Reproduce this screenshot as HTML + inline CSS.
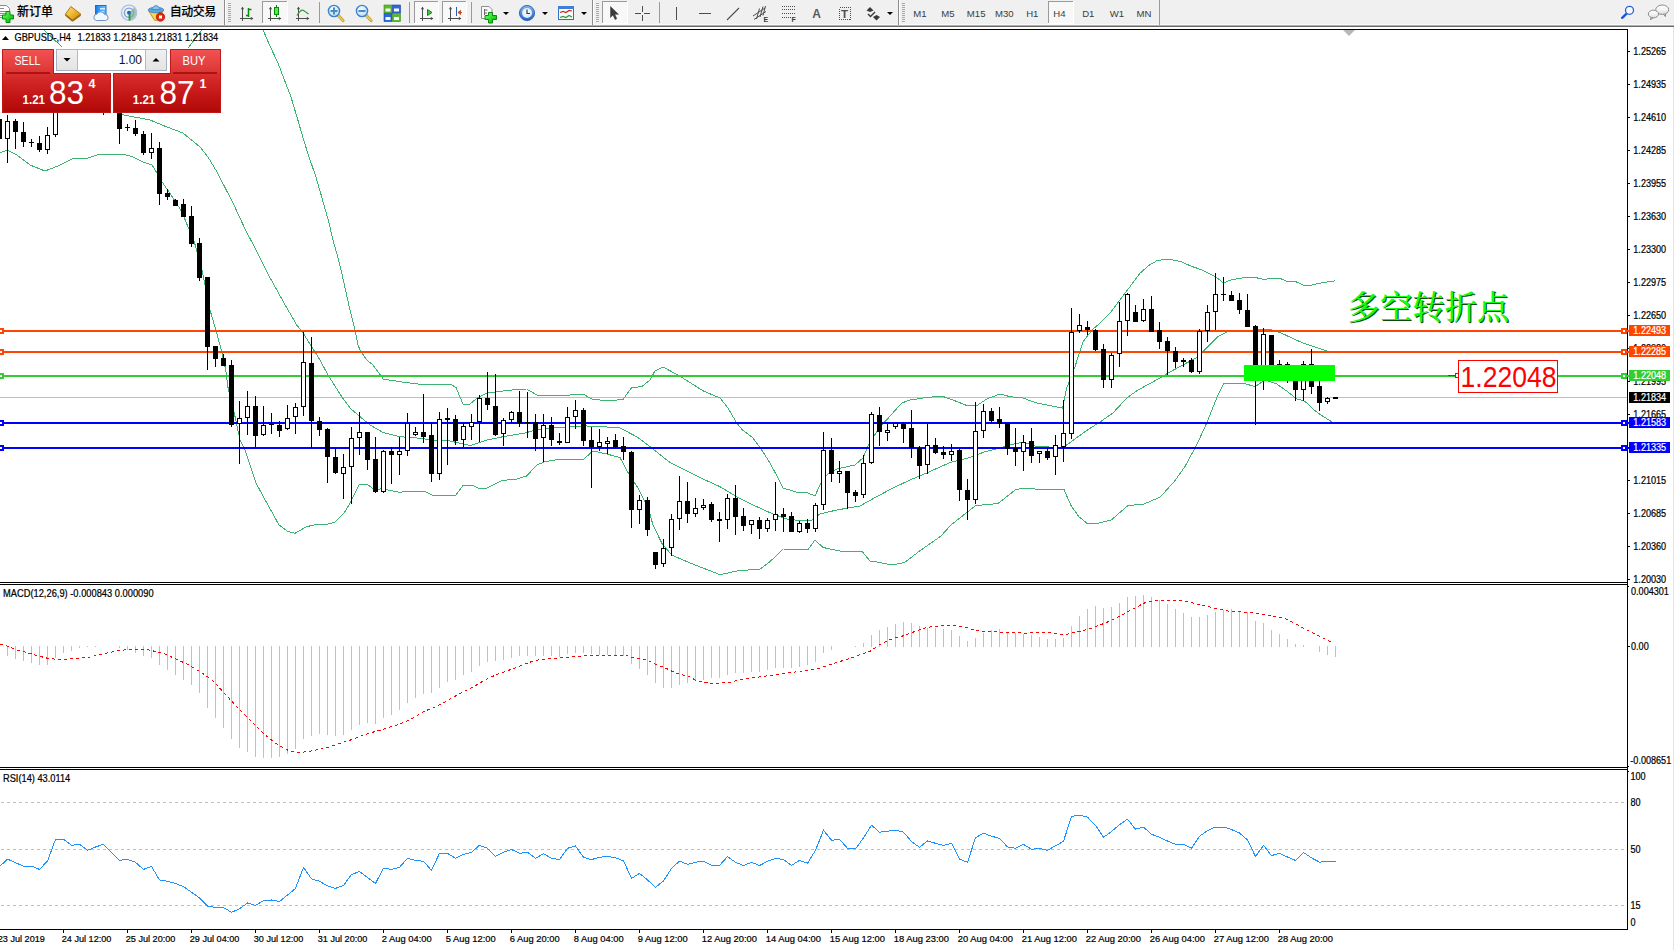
<!DOCTYPE html>
<html><head><meta charset="utf-8"><title>GBPUSD H4</title>
<style>html,body{margin:0;padding:0;background:#fff;overflow:hidden}svg text{white-space:pre}</style>
</head><body>
<svg width="1674" height="950" viewBox="0 0 1674 950" style="display:block">
<defs>
<linearGradient id="gSell" x1="0" y1="0" x2="0" y2="1"><stop offset="0" stop-color="#f45353"/><stop offset="1" stop-color="#d93434"/></linearGradient>
<linearGradient id="gPrice" x1="0" y1="0" x2="0" y2="1"><stop offset="0" stop-color="#d93030"/><stop offset="0.55" stop-color="#c41616"/><stop offset="1" stop-color="#ae0808"/></linearGradient>
<linearGradient id="gBtn" x1="0" y1="0" x2="0" y2="1"><stop offset="0" stop-color="#f0f0f0"/><stop offset="1" stop-color="#e4e4e4"/></linearGradient>
<clipPath id="clipMain"><rect x="0" y="30" width="1627" height="552"/></clipPath><clipPath id="clipMain2"><rect x="0" y="30" width="1629" height="552"/></clipPath>
</defs>
<rect width="1674" height="950" fill="#fff"/>
<rect x="0" y="0" width="1674" height="24" fill="#f0f0f0"/>
<rect x="0" y="24" width="1674" height="1" fill="#fafafa"/>
<rect x="0" y="25" width="1674" height="1" fill="#b0b0b0"/>
<rect x="0" y="26" width="1674" height="1" fill="#6a6a6a"/>
<rect x="1673" y="27" width="1" height="923" fill="#e3e3e3"/>
<defs>
<linearGradient id="gGold" x1="0" y1="0" x2="1" y2="1"><stop offset="0" stop-color="#fbe08a"/><stop offset="0.5" stop-color="#eeb72c"/><stop offset="1" stop-color="#b97a10"/></linearGradient>
<linearGradient id="gBlue" x1="0" y1="0" x2="0" y2="1"><stop offset="0" stop-color="#7db8f0"/><stop offset="1" stop-color="#1f62c4"/></linearGradient>
<linearGradient id="gGreen" x1="0" y1="0" x2="0" y2="1"><stop offset="0" stop-color="#3be03b"/><stop offset="1" stop-color="#0a8a0a"/></linearGradient>
<radialGradient id="gLens" cx="0.4" cy="0.35" r="0.7"><stop offset="0" stop-color="#f4fbff"/><stop offset="1" stop-color="#b4dcf4"/></radialGradient>
<radialGradient id="gClock" cx="0.5" cy="0.4" r="0.6"><stop offset="0" stop-color="#ffffff"/><stop offset="1" stop-color="#d8e6f5"/></radialGradient>
<linearGradient id="gPlus" x1="0" y1="0" x2="1" y2="1"><stop offset="0" stop-color="#7dff7d"/><stop offset="0.5" stop-color="#2fe02f"/><stop offset="1" stop-color="#0aa80a"/></linearGradient>
<linearGradient id="gSrv" x1="0" y1="0" x2="1" y2="0"><stop offset="0" stop-color="#1478e8"/><stop offset="0.35" stop-color="#2f9bff"/><stop offset="1" stop-color="#6cc0ff"/></linearGradient>
<linearGradient id="gBub" x1="0" y1="0" x2="0" y2="1"><stop offset="0" stop-color="#ffffff"/><stop offset="0.5" stop-color="#f4f4f4"/><stop offset="1" stop-color="#dcdce6"/></linearGradient>
</defs>
<g>
<path d="M0 5.500 H6.500 L9.500 8.500 V17.500 H0" fill="#ffffff" stroke="#8a8a8a" stroke-width="1"/>
<g fill="#8c8c8c" shape-rendering="crispEdges"><rect x="0" y="8" width="4" height="1"/><rect x="0" y="11" width="7" height="1"/><rect x="0" y="13" width="6" height="1"/><rect x="0" y="15" width="3" height="1"/></g>
<path d="M6 11.500 H10 V15 H13.500 V19 H10 V22.500 H6 V19 H2.500 V15 H6 Z" fill="url(#gPlus)" stroke="#0a8a0a" stroke-width="1"/>
<text x="17" y="16" font-family="Liberation Sans, Noto Sans CJK SC, sans-serif" font-size="12" font-weight="500" fill="#000" stroke="#000" stroke-width="0.15">新订单</text>
<path d="M65.300 14.300 L70.900 6.500 L81 14.300 L72.500 20.500 Z" fill="url(#gGold)" stroke="#b07a14" stroke-width="1" stroke-linejoin="round"/>
<path d="M65.500 14.800 L72.500 20.800 L80.500 15" fill="none" stroke="#9a6a0c" stroke-width="1.600" stroke-linejoin="round"/>
<rect x="95.500" y="5.500" width="10.500" height="10" fill="url(#gSrv)" stroke="#1a6ad8" stroke-width="1"/>
<rect x="100" y="8" width="5" height="1.500" fill="#d8ecff"/><rect x="100" y="11" width="4" height="1.200" fill="#c0dcf8"/>
<path d="M96.300 20.500 a3.200 3.200 0 0 1 0.500 -6.300 a4.300 4.300 0 0 1 7.800 0.300 a3 3 0 0 1 1 6 Z" fill="#f4f8fd" stroke="#6f94c8" stroke-width="1"/>
<path d="M129 12.700 L129 20.700 A8 8 0 0 0 134.700 7.100 Z" fill="#8fbf8f" opacity="0.850"/>
<circle cx="129" cy="12.700" r="7.600" fill="none" stroke="#a9c3e6" stroke-width="1.400"/>
<circle cx="129" cy="12.700" r="4.600" fill="none" stroke="#7aa2dc" stroke-width="1.400"/>
<circle cx="129" cy="12.700" r="2" fill="#2a5cc8"/>
<path d="M129.500 13 V20.500" fill="none" stroke="#22a022" stroke-width="1.800"/>
<path d="M148.800 11 L163 11 L157.500 20.300 L154.500 20.300 Z" fill="#f6d84a" stroke="#c9941a" stroke-width="1" stroke-linejoin="round"/>
<ellipse cx="156" cy="10" rx="7.800" ry="2.800" fill="#5aa8e0" stroke="#3b80c8" stroke-width="0.800"/>
<path d="M151.500 9.500 Q156 1.500 160.500 9.500 Z" fill="#86c4ee" stroke="#3b80c8" stroke-width="0.800"/>
<circle cx="160.500" cy="17" r="4.200" fill="#e02a14" stroke="#b01808" stroke-width="0.800"/>
<rect x="159" y="15.500" width="3" height="3" fill="#fff"/>
<text x="169.800" y="16" font-family="Liberation Sans, Noto Sans CJK SC, sans-serif" font-size="12" font-weight="500" fill="#000" stroke="#000" stroke-width="0.15" textLength="46.5" lengthAdjust="spacing">自动交易</text>
<rect x="224" y="0" width="1" height="25" fill="#8c8c8c" shape-rendering="crispEdges"/>
<rect x="225" y="0" width="1" height="25" fill="#ffffff" shape-rendering="crispEdges"/>
<g shape-rendering="crispEdges" fill="#a8a8a8">
<rect x="228" y="3" width="3" height="1"/>
<rect x="228" y="5" width="3" height="1"/>
<rect x="228" y="7" width="3" height="1"/>
<rect x="228" y="9" width="3" height="1"/>
<rect x="228" y="11" width="3" height="1"/>
<rect x="228" y="13" width="3" height="1"/>
<rect x="228" y="15" width="3" height="1"/>
<rect x="228" y="17" width="3" height="1"/>
<rect x="228" y="19" width="3" height="1"/>
<rect x="228" y="21" width="3" height="1"/>
</g>
<g shape-rendering="crispEdges" fill="#4d4d4d">
<rect x="242" y="7" width="1" height="14"/>
<rect x="240" y="18" width="13" height="1"/>
</g>
<path d="M240.8 9.2 L242.5 6.7 L244.2 9.2 Z" fill="#4d4d4d"/>
<path d="M250.8 16.8 L253.3 18.5 L250.8 20.2 Z" fill="#4d4d4d"/>
<path d="M248.500 8 V17 M248.500 9.500 H251.500 M246 15.500 H248.500" fill="none" stroke="#0a8a0a" stroke-width="1.500"/>
<g shape-rendering="crispEdges">
<rect x="262" y="1" width="26" height="23" fill="#f8f8f8"/>
<rect x="262" y="1" width="26" height="1" fill="#9a9a9a"/>
<rect x="262" y="1" width="1" height="23" fill="#9a9a9a"/>
<rect x="262" y="23" width="26" height="1" fill="#ffffff"/>
<rect x="287" y="1" width="1" height="23" fill="#ffffff"/>
</g>
<g shape-rendering="crispEdges" fill="#4d4d4d">
<rect x="270" y="7" width="1" height="14"/>
<rect x="268" y="18" width="13" height="1"/>
</g>
<path d="M268.8 9.2 L270.5 6.7 L272.2 9.2 Z" fill="#4d4d4d"/>
<path d="M278.8 16.8 L281.3 18.5 L278.8 20.2 Z" fill="#4d4d4d"/>
<rect x="276" y="5" width="1" height="12" fill="#0a8a0a" shape-rendering="crispEdges"/>
<rect x="274.500" y="7.500" width="4" height="7" fill="#4cf04c" stroke="#0a8a0a" stroke-width="1"/>
<g shape-rendering="crispEdges" fill="#4d4d4d">
<rect x="298" y="7" width="1" height="14"/>
<rect x="296" y="18" width="13" height="1"/>
</g>
<path d="M296.8 9.2 L298.5 6.7 L300.2 9.2 Z" fill="#4d4d4d"/>
<path d="M306.8 16.8 L309.3 18.5 L306.8 20.2 Z" fill="#4d4d4d"/>
<path d="M297 15.500 Q301 9 303.500 10.500 T308.500 14" fill="none" stroke="#2a9a2a" stroke-width="1.300"/>
<rect x="319" y="2" width="1" height="21" fill="#9a9a9a" shape-rendering="crispEdges"/>
<path d="M337.5 14.5 L343 20.5" stroke="#c9a227" stroke-width="3.200" stroke-linecap="round"/>
<path d="M337.5 14.5 L343 20.5" stroke="#e8cf6a" stroke-width="1.200" stroke-linecap="round"/>
<circle cx="334" cy="11" r="5.600" fill="url(#gLens)" stroke="#3d7fd0" stroke-width="1.400"/>
<rect x="330.5" y="10" width="7" height="2" fill="#4a8cc0"/>
<rect x="333" y="7.500" width="2" height="7" fill="#4a8cc0"/>
<path d="M365.5 14.5 L371 20.5" stroke="#c9a227" stroke-width="3.200" stroke-linecap="round"/>
<path d="M365.5 14.5 L371 20.5" stroke="#e8cf6a" stroke-width="1.200" stroke-linecap="round"/>
<circle cx="362" cy="11" r="5.600" fill="url(#gLens)" stroke="#3d7fd0" stroke-width="1.400"/>
<rect x="358.5" y="10" width="7" height="2" fill="#4a8cc0"/>
<rect x="384" y="5" width="8" height="8" fill="#5cb82c" stroke="#3c8e14" stroke-width="0.600"/>
<rect x="385.5" y="8.5" width="5" height="3" fill="#f4f8ff"/>
<rect x="392.5" y="5" width="8" height="8" fill="#2f66d8" stroke="#1a3fa8" stroke-width="0.600"/>
<rect x="394.0" y="8.5" width="5" height="3" fill="#f4f8ff"/>
<rect x="384" y="13.5" width="8" height="8" fill="#2f66d8" stroke="#1a3fa8" stroke-width="0.600"/>
<rect x="385.5" y="17.0" width="5" height="3" fill="#f4f8ff"/>
<rect x="392.5" y="13.5" width="8" height="8" fill="#5cb82c" stroke="#3c8e14" stroke-width="0.600"/>
<rect x="394.0" y="17.0" width="5" height="3" fill="#f4f8ff"/>
<rect x="409" y="2" width="1" height="21" fill="#9a9a9a" shape-rendering="crispEdges"/>
<g shape-rendering="crispEdges">
<rect x="414" y="1" width="25" height="23" fill="#f8f8f8"/>
<rect x="414" y="1" width="25" height="1" fill="#9a9a9a"/>
<rect x="414" y="1" width="1" height="23" fill="#9a9a9a"/>
<rect x="414" y="23" width="25" height="1" fill="#ffffff"/>
<rect x="438" y="1" width="1" height="23" fill="#ffffff"/>
</g>
<g shape-rendering="crispEdges" fill="#4d4d4d">
<rect x="422" y="7" width="1" height="14"/>
<rect x="420" y="18" width="13" height="1"/>
</g>
<path d="M420.8 9.2 L422.5 6.7 L424.2 9.2 Z" fill="#4d4d4d"/>
<path d="M430.8 16.8 L433.3 18.5 L430.8 20.2 Z" fill="#4d4d4d"/>
<path d="M427.500 9.500 L432 12.500 L427.500 15.500 Z" fill="#3cd03c" stroke="#0a8a0a" stroke-width="1"/>
<g shape-rendering="crispEdges">
<rect x="442" y="1" width="25" height="23" fill="#f8f8f8"/>
<rect x="442" y="1" width="25" height="1" fill="#9a9a9a"/>
<rect x="442" y="1" width="1" height="23" fill="#9a9a9a"/>
<rect x="442" y="23" width="25" height="1" fill="#ffffff"/>
<rect x="466" y="1" width="1" height="23" fill="#ffffff"/>
</g>
<g shape-rendering="crispEdges" fill="#4d4d4d">
<rect x="450" y="7" width="1" height="14"/>
<rect x="448" y="18" width="13" height="1"/>
</g>
<path d="M448.8 9.2 L450.5 6.7 L452.2 9.2 Z" fill="#4d4d4d"/>
<path d="M458.8 16.8 L461.3 18.5 L458.8 20.2 Z" fill="#4d4d4d"/>
<rect x="456" y="7" width="1" height="9" fill="#1f62c4" shape-rendering="crispEdges"/>
<path d="M462 12.500 H458 M460.500 10.500 L458 12.500 L460.500 14.500 Z" fill="#d94a10" stroke="#d94a10" stroke-width="1"/>
<rect x="471" y="2" width="1" height="21" fill="#9a9a9a" shape-rendering="crispEdges"/>
<path d="M481.500 6.500 H489 L492 9.500 V18.500 H481.500 Z" fill="#fbfbfb" stroke="#8c8c8c" stroke-width="1"/>
<path d="M484.500 9 V15 M484.500 10 H487.500 M484.500 13 H487" stroke="#6a6a6a" stroke-width="1" fill="none"/>
<path d="M488.500 12.500 H492.500 V15.500 H496.500 V19.500 H492.500 V23 H488.500 V19.500 H485 V15.500 H488.500 Z" fill="url(#gPlus)" stroke="#0a8a0a" stroke-width="1"/>
<path d="M503 12 L509 12 L506 15 Z" fill="#000"/>
<circle cx="527" cy="13" r="7.600" fill="url(#gBlue)" stroke="#1c55b0" stroke-width="0.800"/>
<circle cx="527" cy="13" r="5" fill="url(#gClock)"/>
<path d="M527 9.500 V13.500 H530" fill="none" stroke="#3a3a3a" stroke-width="1.200"/>
<path d="M542 12 L548 12 L545 15 Z" fill="#000"/>
<rect x="558.500" y="6.500" width="15" height="13" fill="#f8fbff" stroke="#2f6fc4" stroke-width="1"/>
<rect x="558" y="6" width="16" height="3" fill="#3f7fd8"/>
<path d="M560 12.500 L563 11.500 L566 12.500 L569 10.500 L572 11" fill="none" stroke="#c03010" stroke-width="1.200"/>
<path d="M560 17.500 L563 16.500 L566 17.500 L569 15.500 L572 17" fill="none" stroke="#2a9a2a" stroke-width="1.200"/>
<path d="M581 12 L587 12 L584 15 Z" fill="#000"/>
<rect x="592" y="0" width="1" height="25" fill="#8c8c8c" shape-rendering="crispEdges"/>
<rect x="593" y="0" width="1" height="25" fill="#ffffff" shape-rendering="crispEdges"/>
<g shape-rendering="crispEdges" fill="#a8a8a8">
<rect x="596" y="3" width="3" height="1"/>
<rect x="596" y="5" width="3" height="1"/>
<rect x="596" y="7" width="3" height="1"/>
<rect x="596" y="9" width="3" height="1"/>
<rect x="596" y="11" width="3" height="1"/>
<rect x="596" y="13" width="3" height="1"/>
<rect x="596" y="15" width="3" height="1"/>
<rect x="596" y="17" width="3" height="1"/>
<rect x="596" y="19" width="3" height="1"/>
<rect x="596" y="21" width="3" height="1"/>
</g>
<g shape-rendering="crispEdges">
<rect x="602" y="1" width="26" height="23" fill="#f8f8f8"/>
<rect x="602" y="1" width="26" height="1" fill="#9a9a9a"/>
<rect x="602" y="1" width="1" height="23" fill="#9a9a9a"/>
<rect x="602" y="23" width="26" height="1" fill="#ffffff"/>
<rect x="627" y="1" width="1" height="23" fill="#ffffff"/>
</g>
<path d="M610.500 6.500 L610.500 17.500 L613 15 L615 19.500 L616.800 18.700 L614.800 14.300 L618.500 14.300 Z" fill="#3a3a3a" stroke="#3a3a3a" stroke-width="0.500" stroke-linejoin="round"/>
<g shape-rendering="crispEdges" fill="#4d4d4d"><rect x="642" y="6" width="1" height="6"/><rect x="642" y="15" width="1" height="6"/><rect x="635" y="13" width="6" height="1"/><rect x="644" y="13" width="6" height="1"/></g>
<rect x="659" y="2" width="1" height="21" fill="#9a9a9a" shape-rendering="crispEdges"/>
<rect x="676" y="7" width="1" height="13" fill="#4d4d4d" shape-rendering="crispEdges"/>
<rect x="699" y="13" width="12" height="1" fill="#4d4d4d" shape-rendering="crispEdges"/>
<path d="M727 20 L739 8" stroke="#4d4d4d" stroke-width="1.100"/>
<path d="M753 16 L765 8 M754 19.500 L766 11.500 M756.500 19 L759.500 8.500 M760 17 L763 6.500 M763 15.500 L765.500 6" stroke="#4d4d4d" stroke-width="1" fill="none"/>
<text x="763.500" y="22" font-family="Liberation Sans, Arial, sans-serif" font-size="7" font-weight="700" fill="#3a3a3a">E</text>
<g fill="none" stroke="#4d4d4d" stroke-width="1" stroke-dasharray="1 1" shape-rendering="crispEdges"><path d="M782 6.500 H795 M782 9.500 H795 M782 13.500 H795 M782 17.500 H791"/></g>
<text x="791.500" y="22" font-family="Liberation Sans, Arial, sans-serif" font-size="7" font-weight="700" fill="#3a3a3a">F</text>
<text x="812.300" y="18" font-family="Liberation Sans, Arial, sans-serif" font-size="12" font-weight="700" fill="#5a5a5a">A</text>
<rect x="839.500" y="7.500" width="11" height="12" fill="none" stroke="#4d4d4d" stroke-width="1" stroke-dasharray="1 1" shape-rendering="crispEdges"/>
<text x="841" y="18" font-family="Liberation Sans, Arial, sans-serif" font-size="11.500" font-weight="700" fill="#4d4d4d">T</text>
<path d="M866.500 10.500 L870 7 L873.500 10.500 L870 12 Z" fill="#3a3a3a"/>
<path d="M873 17 L876.500 15 L880 17 L876.500 20.500 Z" fill="#3a3a3a"/>
<path d="M868 14 L870.500 16.500 L875 12" fill="none" stroke="#3a3a3a" stroke-width="1.400"/>
<path d="M887 12 L893 12 L890 15 Z" fill="#000"/>
<rect x="898" y="0" width="1" height="25" fill="#8c8c8c" shape-rendering="crispEdges"/>
<rect x="899" y="0" width="1" height="25" fill="#ffffff" shape-rendering="crispEdges"/>
<g shape-rendering="crispEdges" fill="#a8a8a8">
<rect x="902" y="3" width="3" height="1"/>
<rect x="902" y="5" width="3" height="1"/>
<rect x="902" y="7" width="3" height="1"/>
<rect x="902" y="9" width="3" height="1"/>
<rect x="902" y="11" width="3" height="1"/>
<rect x="902" y="13" width="3" height="1"/>
<rect x="902" y="15" width="3" height="1"/>
<rect x="902" y="17" width="3" height="1"/>
<rect x="902" y="19" width="3" height="1"/>
<rect x="902" y="21" width="3" height="1"/>
</g>
<g shape-rendering="crispEdges">
<rect x="1048" y="1" width="26" height="23" fill="#f8f8f8"/>
<rect x="1048" y="1" width="26" height="1" fill="#9a9a9a"/>
<rect x="1048" y="1" width="1" height="23" fill="#9a9a9a"/>
<rect x="1048" y="23" width="26" height="1" fill="#ffffff"/>
<rect x="1073" y="1" width="1" height="23" fill="#ffffff"/>
</g>
<g font-family="Liberation Sans, Arial, sans-serif" font-size="9.600" fill="#3c3c3c" text-anchor="middle">
<text x="920" y="17">M1</text>
<text x="948" y="17">M5</text>
<text x="976.2" y="17">M15</text>
<text x="1004.3" y="17">M30</text>
<text x="1032.3" y="17">H1</text>
<text x="1059.5" y="17">H4</text>
<text x="1088.3" y="17">D1</text>
<text x="1117" y="17">W1</text>
<text x="1144" y="17">MN</text>
</g>
<rect x="1159" y="0" width="1" height="25" fill="#9a9a9a" shape-rendering="crispEdges"/>
<path d="M1626.600 13.600 L1622.200 17.800" stroke="#1f56d4" stroke-width="2.400" stroke-linecap="round"/>
<circle cx="1629.500" cy="10.300" r="4" fill="#fbfcff" stroke="#2463dc" stroke-width="1.300"/>
<path d="M1663.500 14.300 L1665.300 16.600 L1665.800 13.900" fill="#e8e8ee" stroke="#8a8a8a" stroke-width="1"/>
<ellipse cx="1662.200" cy="9.700" rx="6.500" ry="4.700" fill="url(#gBub)" stroke="#8c8c8c" stroke-width="1"/>
<path d="M1651.200 17.300 L1650.400 19.700 L1653.300 17.800" fill="#e8e8ee" stroke="#8a8a8a" stroke-width="1"/>
<ellipse cx="1653.400" cy="14" rx="5.100" ry="3.800" fill="url(#gBub)" stroke="#8c8c8c" stroke-width="1"/>
</g>
<g shape-rendering="crispEdges">
<rect x="0" y="29" width="1628" height="1" fill="#000"/>
<rect x="1627" y="29" width="1" height="901" fill="#000"/>
<rect x="0" y="582" width="1628" height="1" fill="#000"/>
<rect x="0" y="584" width="1628" height="1" fill="#000"/>
<rect x="0" y="767" width="1628" height="1" fill="#000"/>
<rect x="0" y="769" width="1628" height="1" fill="#000"/>
<rect x="0" y="929" width="1628" height="1" fill="#000"/>
</g>
<g clip-path="url(#clipMain)">
<rect x="0" y="397" width="1627" height="1" fill="#c0c0c0" shape-rendering="crispEdges"/>
<polyline points="44.0,30.0 62.0,47.0" fill="none" stroke="#3cb371" stroke-width="1" shape-rendering="crispEdges" />
<polyline points="188.0,48.0 202.0,30.0" fill="none" stroke="#3cb371" stroke-width="1" shape-rendering="crispEdges" />
<polyline points="263.0,30.0 270.0,46.0 278.0,63.0 284.0,79.0 290.6,95.8 297.0,117.0 303.3,138.8 309.0,157.0 315.9,176.7 322.0,198.0 328.5,221.0 333.0,240.0 338.6,260.0 341.7,273.0 346.0,292.0 350.0,310.0 355.0,330.0 358.0,345.0 360.0,350.0 366.7,360.0 373.0,365.0 381.7,376.7 383.0,379.0 400.0,381.7 421.7,384.5 433.0,385.0 450.0,384.0 456.0,387.5 463.0,404.0 470.0,404.0 478.0,397.5 486.7,393.0 511.7,390.0 526.7,389.0 536.7,395.0 553.0,396.0 570.0,395.0 583.0,394.0 591.7,399.0 606.7,400.8 623.0,399.5 631.7,387.5 641.7,386.7 650.0,380.0 655.0,370.8 663.0,367.0 678.0,375.0 703.0,390.8 720.0,398.0 728.0,408.0 736.7,423.0 742.5,430.0 753.0,438.0 761.7,450.0 770.0,463.0 778.0,478.0 783.0,488.0 798.0,492.5 808.0,493.0 815.0,496.0 820.0,485.0 826.7,475.0 836.7,469.0 855.0,465.0 863.0,458.0 868.0,446.0 876.7,431.7 885.0,421.7 901.7,403.0 910.0,400.0 926.7,397.5 941.7,396.0 953.0,400.0 968.0,406.0 976.7,405.8 986.7,399.0 1000.0,394.0 1010.0,396.7 1023.0,398.0 1035.0,402.5 1051.7,406.0 1062.5,408.0 1066.7,388.0 1075.0,366.7 1083.0,341.7 1093.0,329.0 1100.0,323.3 1110.0,313.3 1120.0,300.0 1130.0,286.7 1140.0,273.3 1148.3,265.8 1156.7,260.8 1165.0,259.2 1173.3,260.0 1181.7,261.7 1190.0,265.8 1200.0,269.2 1208.3,273.3 1216.7,277.5 1223.3,283.0 1231.7,279.7 1241.7,278.0 1255.0,277.5 1263.3,279.2 1280.0,278.3 1288.3,282.0 1295.0,281.3 1303.3,285.0 1311.7,285.0 1323.3,282.5 1335.0,280.8" fill="none" stroke="#3cb371" stroke-width="1" shape-rendering="crispEdges" />
<polyline points="118.0,113.0 124.0,115.0 150.0,120.0 167.0,127.0 183.0,133.0 200.0,147.0 208.0,157.0 217.0,172.0 233.0,203.0 246.0,231.0 255.0,248.0 266.7,271.7 283.3,301.7 296.7,325.0 303.0,333.0 311.7,346.7 320.0,360.0 328.0,375.0 341.7,396.7 350.0,408.0 360.0,416.7 370.0,425.0 383.0,432.5 400.0,436.7 416.7,438.0 433.0,440.0 450.0,441.0 466.7,444.7 470.0,445.8 486.7,440.0 503.0,436.7 525.0,433.0 536.7,429.7 553.0,428.0 570.0,426.7 586.7,426.0 603.0,426.7 620.0,428.0 636.7,436.7 650.0,446.7 670.0,462.5 686.7,471.0 703.0,479.0 720.0,486.7 736.7,496.7 753.0,505.0 773.0,514.0 786.7,519.0 803.0,521.0 811.7,520.0 820.0,514.0 836.7,510.0 860.0,506.0 876.7,496.7 893.0,488.0 910.0,480.0 926.7,473.0 950.0,462.5 968.0,458.0 985.0,451.7 1001.7,447.5 1010.0,445.0 1023.0,442.0 1035.0,446.0 1043.0,446.0 1060.0,449.0 1068.0,444.0 1085.0,431.7 1101.7,420.8 1113.0,413.0 1126.7,398.0 1138.0,390.0 1160.0,378.0 1168.0,373.0 1183.0,365.0 1196.7,357.5 1206.7,348.0 1218.0,336.7 1226.7,332.0 1268.0,329.0 1280.0,332.5 1301.7,342.5 1326.7,351.0 1335.0,353.0" fill="none" stroke="#3cb371" stroke-width="1" shape-rendering="crispEdges" />
<polyline points="0.0,153.0 7.0,150.0 17.0,155.0 30.0,165.0 45.0,171.0 58.0,166.0 72.0,159.0 88.0,158.0 100.0,154.0 123.0,154.0 133.0,157.0 143.0,162.0 152.0,165.0 157.0,173.0 162.5,182.5 173.0,198.0 182.0,212.0 188.0,227.0 194.0,241.0 201.7,268.0 205.0,285.0 210.0,310.0 216.7,333.0 221.7,351.7 225.8,370.0 228.0,387.5 234.0,411.7 240.0,440.0 245.0,450.0 250.0,465.0 255.8,482.5 263.3,496.7 271.7,511.7 279.0,525.0 288.3,531.7 295.0,533.3 306.7,526.7 315.0,524.7 328.3,524.0 335.0,522.0 345.0,511.7 351.7,500.0 359.0,485.0 366.7,484.0 375.0,490.0 381.7,488.7 400.0,492.5 406.7,491.0 424.0,491.0 431.7,495.0 455.8,495.0 463.3,485.0 472.5,485.0 478.0,488.0 486.7,488.0 501.7,480.5 516.7,479.0 526.7,476.0 536.7,465.0 545.0,461.7 556.7,459.7 583.0,459.7 593.0,451.0 606.7,454.0 620.0,457.5 628.0,472.5 638.0,488.0 648.0,507.5 653.0,525.0 661.7,543.0 671.7,555.0 690.0,563.0 703.0,568.0 720.0,574.7 736.7,571.0 760.0,569.0 770.0,561.7 783.0,549.0 808.0,549.7 815.0,540.0 823.0,547.5 840.0,551.0 861.7,551.0 870.0,561.0 880.0,562.5 892.0,565.0 904.4,562.5 920.6,550.3 941.0,536.0 951.0,525.0 965.3,513.7 975.5,505.6 997.8,503.6 1016.0,489.4 1026.2,488.0 1044.5,490.0 1063.8,489.0 1071.0,505.6 1079.0,516.8 1087.2,523.5 1095.3,524.0 1111.5,519.8 1127.8,505.6 1144.0,504.0 1160.3,497.0 1174.5,481.2 1184.7,467.0 1196.8,444.7 1207.0,422.3 1216.7,398.0 1224.0,383.0 1243.0,383.0 1255.0,386.7 1265.0,380.0 1276.7,384.0 1286.7,391.0 1296.7,399.0 1303.0,400.5 1307.0,403.0 1314.0,410.0 1321.0,415.0 1331.5,421.7" fill="none" stroke="#3cb371" stroke-width="1" shape-rendering="crispEdges" />
<g shape-rendering="crispEdges">
<rect x="0" y="330" width="1629" height="2" fill="#ff4500"/>
<rect x="0" y="351" width="1629" height="2" fill="#ff4500"/>
<rect x="0" y="375" width="1629" height="2" fill="#32cd32"/>
<rect x="0" y="422" width="1629" height="2" fill="#0000ff"/>
<rect x="0" y="447" width="1629" height="2" fill="#0000ff"/>
</g>
<g shape-rendering="crispEdges">
<rect x="-1" y="115" width="1" height="30" fill="#000"/>
<rect x="-3" y="119" width="5" height="20" fill="#000"/>
<rect x="7" y="115" width="1" height="48" fill="#000"/>
<rect x="5" y="121" width="5" height="18" fill="#000"/>
<rect x="6" y="122" width="3" height="16" fill="#fff"/>
<rect x="15" y="119" width="1" height="30" fill="#000"/>
<rect x="13" y="121" width="5" height="11" fill="#000"/>
<rect x="23" y="122" width="1" height="25" fill="#000"/>
<rect x="21" y="132" width="5" height="10" fill="#000"/>
<rect x="31" y="139" width="1" height="8" fill="#000"/>
<rect x="29" y="142" width="5" height="1" fill="#000"/>
<rect x="39" y="136" width="1" height="16" fill="#000"/>
<rect x="37" y="143" width="5" height="7" fill="#000"/>
<rect x="47" y="127" width="1" height="27" fill="#000"/>
<rect x="45" y="135" width="5" height="15" fill="#000"/>
<rect x="46" y="136" width="3" height="13" fill="#fff"/>
<rect x="55" y="100" width="1" height="37" fill="#000"/>
<rect x="53" y="100" width="5" height="35" fill="#000"/>
<rect x="54" y="101" width="3" height="33" fill="#fff"/>
<rect x="103" y="100" width="1" height="15" fill="#000"/>
<rect x="101" y="99" width="5" height="1" fill="#000"/>
<rect x="119" y="113" width="1" height="31" fill="#000"/>
<rect x="117" y="113" width="5" height="16" fill="#000"/>
<rect x="127" y="124" width="1" height="7" fill="#000"/>
<rect x="125" y="127" width="5" height="1" fill="#000"/>
<rect x="135" y="120" width="1" height="16" fill="#000"/>
<rect x="133" y="128" width="5" height="6" fill="#000"/>
<rect x="143" y="131" width="1" height="24" fill="#000"/>
<rect x="141" y="134" width="5" height="19" fill="#000"/>
<rect x="151" y="133" width="1" height="26" fill="#000"/>
<rect x="149" y="148" width="5" height="5" fill="#000"/>
<rect x="150" y="149" width="3" height="3" fill="#fff"/>
<rect x="159" y="142" width="1" height="63" fill="#000"/>
<rect x="157" y="148" width="5" height="46" fill="#000"/>
<rect x="167" y="189" width="1" height="11" fill="#000"/>
<rect x="165" y="193" width="5" height="4" fill="#000"/>
<rect x="175" y="199" width="1" height="7" fill="#000"/>
<rect x="173" y="200" width="5" height="6" fill="#000"/>
<rect x="183" y="199" width="1" height="18" fill="#000"/>
<rect x="181" y="204" width="5" height="13" fill="#000"/>
<rect x="191" y="206" width="1" height="41" fill="#000"/>
<rect x="189" y="216" width="5" height="28" fill="#000"/>
<rect x="199" y="238" width="1" height="43" fill="#000"/>
<rect x="197" y="243" width="5" height="35" fill="#000"/>
<rect x="207" y="277" width="1" height="93" fill="#000"/>
<rect x="205" y="277" width="5" height="70" fill="#000"/>
<rect x="215" y="346" width="1" height="21" fill="#000"/>
<rect x="213" y="346" width="5" height="13" fill="#000"/>
<rect x="223" y="354" width="1" height="12" fill="#000"/>
<rect x="221" y="358" width="5" height="8" fill="#000"/>
<rect x="231" y="360" width="1" height="67" fill="#000"/>
<rect x="229" y="365" width="5" height="60" fill="#000"/>
<rect x="239" y="401" width="1" height="63" fill="#000"/>
<rect x="237" y="418" width="5" height="6" fill="#000"/>
<rect x="238" y="419" width="3" height="4" fill="#fff"/>
<rect x="247" y="391" width="1" height="44" fill="#000"/>
<rect x="245" y="406" width="5" height="12" fill="#000"/>
<rect x="246" y="407" width="3" height="10" fill="#fff"/>
<rect x="255" y="396" width="1" height="51" fill="#000"/>
<rect x="253" y="406" width="5" height="30" fill="#000"/>
<rect x="263" y="406" width="1" height="30" fill="#000"/>
<rect x="261" y="425" width="5" height="10" fill="#000"/>
<rect x="262" y="426" width="3" height="8" fill="#fff"/>
<rect x="271" y="413" width="1" height="21" fill="#000"/>
<rect x="269" y="424" width="5" height="1" fill="#000"/>
<rect x="279" y="421" width="1" height="16" fill="#000"/>
<rect x="277" y="425" width="5" height="6" fill="#000"/>
<rect x="287" y="405" width="1" height="25" fill="#000"/>
<rect x="285" y="418" width="5" height="11" fill="#000"/>
<rect x="286" y="419" width="3" height="9" fill="#fff"/>
<rect x="295" y="403" width="1" height="31" fill="#000"/>
<rect x="293" y="407" width="5" height="10" fill="#000"/>
<rect x="294" y="408" width="3" height="8" fill="#fff"/>
<rect x="303" y="332" width="1" height="84" fill="#000"/>
<rect x="301" y="362" width="5" height="45" fill="#000"/>
<rect x="302" y="363" width="3" height="43" fill="#fff"/>
<rect x="311" y="337" width="1" height="111" fill="#000"/>
<rect x="309" y="363" width="5" height="58" fill="#000"/>
<rect x="319" y="417" width="1" height="19" fill="#000"/>
<rect x="317" y="421" width="5" height="9" fill="#000"/>
<rect x="327" y="428" width="1" height="55" fill="#000"/>
<rect x="325" y="429" width="5" height="28" fill="#000"/>
<rect x="335" y="449" width="1" height="25" fill="#000"/>
<rect x="333" y="457" width="5" height="16" fill="#000"/>
<rect x="343" y="454" width="1" height="45" fill="#000"/>
<rect x="341" y="467" width="5" height="7" fill="#000"/>
<rect x="342" y="468" width="3" height="5" fill="#fff"/>
<rect x="351" y="427" width="1" height="77" fill="#000"/>
<rect x="349" y="438" width="5" height="29" fill="#000"/>
<rect x="350" y="439" width="3" height="27" fill="#fff"/>
<rect x="359" y="412" width="1" height="43" fill="#000"/>
<rect x="357" y="432" width="5" height="6" fill="#000"/>
<rect x="358" y="433" width="3" height="4" fill="#fff"/>
<rect x="367" y="432" width="1" height="38" fill="#000"/>
<rect x="365" y="432" width="5" height="28" fill="#000"/>
<rect x="375" y="437" width="1" height="56" fill="#000"/>
<rect x="373" y="459" width="5" height="33" fill="#000"/>
<rect x="383" y="450" width="1" height="43" fill="#000"/>
<rect x="381" y="451" width="5" height="41" fill="#000"/>
<rect x="382" y="452" width="3" height="39" fill="#fff"/>
<rect x="391" y="447" width="1" height="37" fill="#000"/>
<rect x="389" y="451" width="5" height="4" fill="#000"/>
<rect x="399" y="437" width="1" height="38" fill="#000"/>
<rect x="397" y="451" width="5" height="4" fill="#000"/>
<rect x="398" y="452" width="3" height="2" fill="#fff"/>
<rect x="407" y="413" width="1" height="43" fill="#000"/>
<rect x="405" y="423" width="5" height="28" fill="#000"/>
<rect x="406" y="424" width="3" height="26" fill="#fff"/>
<rect x="415" y="427" width="1" height="9" fill="#000"/>
<rect x="413" y="432" width="5" height="3" fill="#000"/>
<rect x="414" y="433" width="3" height="1" fill="#fff"/>
<rect x="423" y="394" width="1" height="49" fill="#000"/>
<rect x="421" y="432" width="5" height="5" fill="#000"/>
<rect x="431" y="423" width="1" height="59" fill="#000"/>
<rect x="429" y="435" width="5" height="39" fill="#000"/>
<rect x="439" y="412" width="1" height="68" fill="#000"/>
<rect x="437" y="419" width="5" height="55" fill="#000"/>
<rect x="438" y="420" width="3" height="53" fill="#fff"/>
<rect x="447" y="408" width="1" height="57" fill="#000"/>
<rect x="445" y="418" width="5" height="2" fill="#000"/>
<rect x="455" y="415" width="1" height="30" fill="#000"/>
<rect x="453" y="419" width="5" height="22" fill="#000"/>
<rect x="463" y="423" width="1" height="24" fill="#000"/>
<rect x="461" y="426" width="5" height="14" fill="#000"/>
<rect x="462" y="427" width="3" height="12" fill="#fff"/>
<rect x="471" y="414" width="1" height="26" fill="#000"/>
<rect x="469" y="422" width="5" height="5" fill="#000"/>
<rect x="470" y="423" width="3" height="3" fill="#fff"/>
<rect x="479" y="395" width="1" height="47" fill="#000"/>
<rect x="477" y="398" width="5" height="24" fill="#000"/>
<rect x="478" y="399" width="3" height="22" fill="#fff"/>
<rect x="487" y="372" width="1" height="38" fill="#000"/>
<rect x="485" y="398" width="5" height="7" fill="#000"/>
<rect x="495" y="374" width="1" height="62" fill="#000"/>
<rect x="493" y="406" width="5" height="29" fill="#000"/>
<rect x="503" y="418" width="1" height="28" fill="#000"/>
<rect x="501" y="420" width="5" height="14" fill="#000"/>
<rect x="502" y="421" width="3" height="12" fill="#fff"/>
<rect x="511" y="411" width="1" height="12" fill="#000"/>
<rect x="509" y="412" width="5" height="8" fill="#000"/>
<rect x="510" y="413" width="3" height="6" fill="#fff"/>
<rect x="519" y="391" width="1" height="36" fill="#000"/>
<rect x="517" y="412" width="5" height="11" fill="#000"/>
<rect x="527" y="392" width="1" height="46" fill="#000"/>
<rect x="525" y="422" width="5" height="1" fill="#000"/>
<rect x="535" y="414" width="1" height="37" fill="#000"/>
<rect x="533" y="422" width="5" height="17" fill="#000"/>
<rect x="543" y="414" width="1" height="48" fill="#000"/>
<rect x="541" y="425" width="5" height="13" fill="#000"/>
<rect x="542" y="426" width="3" height="11" fill="#fff"/>
<rect x="551" y="417" width="1" height="29" fill="#000"/>
<rect x="549" y="425" width="5" height="15" fill="#000"/>
<rect x="559" y="433" width="1" height="12" fill="#000"/>
<rect x="557" y="441" width="5" height="2" fill="#000"/>
<rect x="567" y="407" width="1" height="36" fill="#000"/>
<rect x="565" y="417" width="5" height="26" fill="#000"/>
<rect x="566" y="418" width="3" height="24" fill="#fff"/>
<rect x="575" y="400" width="1" height="29" fill="#000"/>
<rect x="573" y="410" width="5" height="7" fill="#000"/>
<rect x="574" y="411" width="3" height="5" fill="#fff"/>
<rect x="583" y="408" width="1" height="38" fill="#000"/>
<rect x="581" y="410" width="5" height="31" fill="#000"/>
<rect x="591" y="427" width="1" height="61" fill="#000"/>
<rect x="589" y="440" width="5" height="7" fill="#000"/>
<rect x="599" y="429" width="1" height="22" fill="#000"/>
<rect x="597" y="442" width="5" height="5" fill="#000"/>
<rect x="598" y="443" width="3" height="3" fill="#fff"/>
<rect x="607" y="437" width="1" height="17" fill="#000"/>
<rect x="605" y="441" width="5" height="3" fill="#000"/>
<rect x="606" y="442" width="3" height="1" fill="#fff"/>
<rect x="615" y="434" width="1" height="14" fill="#000"/>
<rect x="613" y="440" width="5" height="7" fill="#000"/>
<rect x="623" y="437" width="1" height="23" fill="#000"/>
<rect x="621" y="446" width="5" height="6" fill="#000"/>
<rect x="631" y="451" width="1" height="77" fill="#000"/>
<rect x="629" y="452" width="5" height="58" fill="#000"/>
<rect x="639" y="495" width="1" height="29" fill="#000"/>
<rect x="637" y="500" width="5" height="10" fill="#000"/>
<rect x="638" y="501" width="3" height="8" fill="#fff"/>
<rect x="647" y="497" width="1" height="39" fill="#000"/>
<rect x="645" y="500" width="5" height="30" fill="#000"/>
<rect x="655" y="552" width="1" height="17" fill="#000"/>
<rect x="653" y="552" width="5" height="13" fill="#000"/>
<rect x="663" y="539" width="1" height="28" fill="#000"/>
<rect x="661" y="548" width="5" height="16" fill="#000"/>
<rect x="662" y="549" width="3" height="14" fill="#fff"/>
<rect x="671" y="514" width="1" height="42" fill="#000"/>
<rect x="669" y="519" width="5" height="29" fill="#000"/>
<rect x="670" y="520" width="3" height="27" fill="#fff"/>
<rect x="679" y="476" width="1" height="54" fill="#000"/>
<rect x="677" y="501" width="5" height="18" fill="#000"/>
<rect x="678" y="502" width="3" height="16" fill="#fff"/>
<rect x="687" y="482" width="1" height="41" fill="#000"/>
<rect x="685" y="501" width="5" height="13" fill="#000"/>
<rect x="695" y="498" width="1" height="19" fill="#000"/>
<rect x="693" y="508" width="5" height="6" fill="#000"/>
<rect x="694" y="509" width="3" height="4" fill="#fff"/>
<rect x="703" y="499" width="1" height="11" fill="#000"/>
<rect x="701" y="505" width="5" height="3" fill="#000"/>
<rect x="702" y="506" width="3" height="1" fill="#fff"/>
<rect x="711" y="502" width="1" height="20" fill="#000"/>
<rect x="709" y="504" width="5" height="16" fill="#000"/>
<rect x="719" y="512" width="1" height="30" fill="#000"/>
<rect x="717" y="519" width="5" height="2" fill="#000"/>
<rect x="727" y="494" width="1" height="35" fill="#000"/>
<rect x="725" y="498" width="5" height="22" fill="#000"/>
<rect x="726" y="499" width="3" height="20" fill="#fff"/>
<rect x="735" y="485" width="1" height="50" fill="#000"/>
<rect x="733" y="498" width="5" height="19" fill="#000"/>
<rect x="743" y="508" width="1" height="23" fill="#000"/>
<rect x="741" y="516" width="5" height="10" fill="#000"/>
<rect x="751" y="520" width="1" height="14" fill="#000"/>
<rect x="749" y="520" width="5" height="5" fill="#000"/>
<rect x="750" y="521" width="3" height="3" fill="#fff"/>
<rect x="759" y="517" width="1" height="22" fill="#000"/>
<rect x="757" y="520" width="5" height="9" fill="#000"/>
<rect x="767" y="518" width="1" height="14" fill="#000"/>
<rect x="765" y="520" width="5" height="9" fill="#000"/>
<rect x="766" y="521" width="3" height="7" fill="#fff"/>
<rect x="775" y="482" width="1" height="49" fill="#000"/>
<rect x="773" y="514" width="5" height="6" fill="#000"/>
<rect x="774" y="515" width="3" height="4" fill="#fff"/>
<rect x="783" y="508" width="1" height="24" fill="#000"/>
<rect x="781" y="514" width="5" height="3" fill="#000"/>
<rect x="791" y="512" width="1" height="20" fill="#000"/>
<rect x="789" y="516" width="5" height="16" fill="#000"/>
<rect x="799" y="521" width="1" height="12" fill="#000"/>
<rect x="797" y="523" width="5" height="9" fill="#000"/>
<rect x="798" y="524" width="3" height="7" fill="#fff"/>
<rect x="807" y="519" width="1" height="14" fill="#000"/>
<rect x="805" y="523" width="5" height="6" fill="#000"/>
<rect x="815" y="503" width="1" height="29" fill="#000"/>
<rect x="813" y="505" width="5" height="24" fill="#000"/>
<rect x="814" y="506" width="3" height="22" fill="#fff"/>
<rect x="823" y="432" width="1" height="78" fill="#000"/>
<rect x="821" y="450" width="5" height="55" fill="#000"/>
<rect x="822" y="451" width="3" height="53" fill="#fff"/>
<rect x="831" y="438" width="1" height="44" fill="#000"/>
<rect x="829" y="450" width="5" height="24" fill="#000"/>
<rect x="839" y="461" width="1" height="22" fill="#000"/>
<rect x="837" y="471" width="5" height="3" fill="#000"/>
<rect x="838" y="472" width="3" height="1" fill="#fff"/>
<rect x="847" y="471" width="1" height="38" fill="#000"/>
<rect x="845" y="471" width="5" height="22" fill="#000"/>
<rect x="855" y="490" width="1" height="12" fill="#000"/>
<rect x="853" y="492" width="5" height="4" fill="#000"/>
<rect x="863" y="455" width="1" height="43" fill="#000"/>
<rect x="861" y="463" width="5" height="32" fill="#000"/>
<rect x="862" y="464" width="3" height="30" fill="#fff"/>
<rect x="871" y="412" width="1" height="52" fill="#000"/>
<rect x="869" y="414" width="5" height="49" fill="#000"/>
<rect x="870" y="415" width="3" height="47" fill="#fff"/>
<rect x="879" y="407" width="1" height="39" fill="#000"/>
<rect x="877" y="415" width="5" height="17" fill="#000"/>
<rect x="887" y="424" width="1" height="17" fill="#000"/>
<rect x="885" y="430" width="5" height="3" fill="#000"/>
<rect x="886" y="431" width="3" height="1" fill="#fff"/>
<rect x="895" y="422" width="1" height="7" fill="#000"/>
<rect x="893" y="423" width="5" height="4" fill="#000"/>
<rect x="894" y="424" width="3" height="2" fill="#fff"/>
<rect x="903" y="422" width="1" height="21" fill="#000"/>
<rect x="901" y="424" width="5" height="5" fill="#000"/>
<rect x="911" y="410" width="1" height="48" fill="#000"/>
<rect x="909" y="428" width="5" height="20" fill="#000"/>
<rect x="919" y="446" width="1" height="33" fill="#000"/>
<rect x="917" y="448" width="5" height="18" fill="#000"/>
<rect x="927" y="424" width="1" height="50" fill="#000"/>
<rect x="925" y="445" width="5" height="20" fill="#000"/>
<rect x="926" y="446" width="3" height="18" fill="#fff"/>
<rect x="935" y="438" width="1" height="16" fill="#000"/>
<rect x="933" y="445" width="5" height="8" fill="#000"/>
<rect x="943" y="446" width="1" height="13" fill="#000"/>
<rect x="941" y="452" width="5" height="3" fill="#000"/>
<rect x="951" y="444" width="1" height="17" fill="#000"/>
<rect x="949" y="451" width="5" height="4" fill="#000"/>
<rect x="950" y="452" width="3" height="2" fill="#fff"/>
<rect x="959" y="449" width="1" height="52" fill="#000"/>
<rect x="957" y="450" width="5" height="40" fill="#000"/>
<rect x="967" y="479" width="1" height="41" fill="#000"/>
<rect x="965" y="490" width="5" height="10" fill="#000"/>
<rect x="975" y="402" width="1" height="102" fill="#000"/>
<rect x="973" y="431" width="5" height="69" fill="#000"/>
<rect x="974" y="432" width="3" height="67" fill="#fff"/>
<rect x="983" y="404" width="1" height="34" fill="#000"/>
<rect x="981" y="411" width="5" height="20" fill="#000"/>
<rect x="982" y="412" width="3" height="18" fill="#fff"/>
<rect x="991" y="408" width="1" height="14" fill="#000"/>
<rect x="989" y="411" width="5" height="10" fill="#000"/>
<rect x="999" y="407" width="1" height="21" fill="#000"/>
<rect x="997" y="419" width="5" height="5" fill="#000"/>
<rect x="1007" y="423" width="1" height="32" fill="#000"/>
<rect x="1005" y="423" width="5" height="26" fill="#000"/>
<rect x="1015" y="428" width="1" height="38" fill="#000"/>
<rect x="1013" y="448" width="5" height="4" fill="#000"/>
<rect x="1023" y="435" width="1" height="36" fill="#000"/>
<rect x="1021" y="442" width="5" height="10" fill="#000"/>
<rect x="1022" y="443" width="3" height="8" fill="#fff"/>
<rect x="1031" y="428" width="1" height="35" fill="#000"/>
<rect x="1029" y="441" width="5" height="15" fill="#000"/>
<rect x="1039" y="451" width="1" height="12" fill="#000"/>
<rect x="1037" y="451" width="5" height="3" fill="#000"/>
<rect x="1038" y="452" width="3" height="1" fill="#fff"/>
<rect x="1047" y="448" width="1" height="12" fill="#000"/>
<rect x="1045" y="451" width="5" height="7" fill="#000"/>
<rect x="1055" y="435" width="1" height="40" fill="#000"/>
<rect x="1053" y="445" width="5" height="12" fill="#000"/>
<rect x="1054" y="446" width="3" height="10" fill="#fff"/>
<rect x="1063" y="400" width="1" height="62" fill="#000"/>
<rect x="1061" y="433" width="5" height="14" fill="#000"/>
<rect x="1062" y="434" width="3" height="12" fill="#fff"/>
<rect x="1071" y="308" width="1" height="131" fill="#000"/>
<rect x="1069" y="332" width="5" height="102" fill="#000"/>
<rect x="1070" y="333" width="3" height="100" fill="#fff"/>
<rect x="1079" y="314" width="1" height="19" fill="#000"/>
<rect x="1077" y="325" width="5" height="6" fill="#000"/>
<rect x="1078" y="326" width="3" height="4" fill="#fff"/>
<rect x="1087" y="321" width="1" height="14" fill="#000"/>
<rect x="1085" y="327" width="5" height="3" fill="#000"/>
<rect x="1095" y="329" width="1" height="22" fill="#000"/>
<rect x="1093" y="330" width="5" height="20" fill="#000"/>
<rect x="1103" y="344" width="1" height="44" fill="#000"/>
<rect x="1101" y="349" width="5" height="31" fill="#000"/>
<rect x="1111" y="353" width="1" height="35" fill="#000"/>
<rect x="1109" y="355" width="5" height="25" fill="#000"/>
<rect x="1110" y="356" width="3" height="23" fill="#fff"/>
<rect x="1119" y="302" width="1" height="65" fill="#000"/>
<rect x="1117" y="321" width="5" height="33" fill="#000"/>
<rect x="1118" y="322" width="3" height="31" fill="#fff"/>
<rect x="1127" y="293" width="1" height="43" fill="#000"/>
<rect x="1125" y="294" width="5" height="27" fill="#000"/>
<rect x="1126" y="295" width="3" height="25" fill="#fff"/>
<rect x="1135" y="305" width="1" height="17" fill="#000"/>
<rect x="1133" y="312" width="5" height="10" fill="#000"/>
<rect x="1143" y="299" width="1" height="23" fill="#000"/>
<rect x="1141" y="309" width="5" height="12" fill="#000"/>
<rect x="1142" y="310" width="3" height="10" fill="#fff"/>
<rect x="1151" y="296" width="1" height="36" fill="#000"/>
<rect x="1149" y="309" width="5" height="23" fill="#000"/>
<rect x="1159" y="322" width="1" height="27" fill="#000"/>
<rect x="1157" y="330" width="5" height="12" fill="#000"/>
<rect x="1167" y="337" width="1" height="38" fill="#000"/>
<rect x="1165" y="341" width="5" height="10" fill="#000"/>
<rect x="1175" y="347" width="1" height="21" fill="#000"/>
<rect x="1173" y="351" width="5" height="11" fill="#000"/>
<rect x="1183" y="358" width="1" height="9" fill="#000"/>
<rect x="1181" y="360" width="5" height="2" fill="#000"/>
<rect x="1191" y="358" width="1" height="15" fill="#000"/>
<rect x="1189" y="360" width="5" height="12" fill="#000"/>
<rect x="1199" y="329" width="1" height="45" fill="#000"/>
<rect x="1197" y="331" width="5" height="41" fill="#000"/>
<rect x="1198" y="332" width="3" height="39" fill="#fff"/>
<rect x="1207" y="305" width="1" height="37" fill="#000"/>
<rect x="1205" y="312" width="5" height="19" fill="#000"/>
<rect x="1206" y="313" width="3" height="17" fill="#fff"/>
<rect x="1215" y="273" width="1" height="57" fill="#000"/>
<rect x="1213" y="294" width="5" height="18" fill="#000"/>
<rect x="1214" y="295" width="3" height="16" fill="#fff"/>
<rect x="1223" y="277" width="1" height="24" fill="#000"/>
<rect x="1221" y="294" width="5" height="1" fill="#000"/>
<rect x="1231" y="291" width="1" height="10" fill="#000"/>
<rect x="1229" y="295" width="5" height="6" fill="#000"/>
<rect x="1239" y="293" width="1" height="21" fill="#000"/>
<rect x="1237" y="300" width="5" height="10" fill="#000"/>
<rect x="1247" y="294" width="1" height="33" fill="#000"/>
<rect x="1245" y="310" width="5" height="17" fill="#000"/>
<rect x="1255" y="325" width="1" height="100" fill="#000"/>
<rect x="1253" y="326" width="5" height="46" fill="#000"/>
<rect x="1263" y="328" width="1" height="62" fill="#000"/>
<rect x="1261" y="334" width="5" height="38" fill="#000"/>
<rect x="1262" y="335" width="3" height="36" fill="#fff"/>
<rect x="1271" y="335" width="1" height="37" fill="#000"/>
<rect x="1269" y="335" width="5" height="37" fill="#000"/>
<rect x="1279" y="360" width="1" height="12" fill="#000"/>
<rect x="1277" y="364" width="5" height="6" fill="#000"/>
<rect x="1287" y="362" width="1" height="21" fill="#000"/>
<rect x="1285" y="364" width="5" height="8" fill="#000"/>
<rect x="1295" y="368" width="1" height="33" fill="#000"/>
<rect x="1293" y="372" width="5" height="18" fill="#000"/>
<rect x="1303" y="361" width="1" height="40" fill="#000"/>
<rect x="1301" y="364" width="5" height="26" fill="#000"/>
<rect x="1302" y="365" width="3" height="24" fill="#fff"/>
<rect x="1311" y="349" width="1" height="45" fill="#000"/>
<rect x="1309" y="364" width="5" height="23" fill="#000"/>
<rect x="1319" y="381" width="1" height="30" fill="#000"/>
<rect x="1317" y="386" width="5" height="17" fill="#000"/>
<rect x="1327" y="397" width="1" height="7" fill="#000"/>
<rect x="1325" y="398" width="5" height="4" fill="#000"/>
<rect x="1326" y="399" width="3" height="2" fill="#fff"/>
<rect x="1335" y="397" width="1" height="2" fill="#000"/>
<rect x="1333" y="397" width="5" height="2" fill="#000"/>
</g>
<rect x="1244" y="365" width="91" height="16" fill="#00ff00" shape-rendering="crispEdges"/>
<g shape-rendering="crispEdges">
<rect x="-2" y="328" width="6" height="6" fill="#ff4500"/><rect x="0" y="330" width="2" height="2" fill="#fff"/>
<rect x="1621" y="328" width="6" height="6" fill="#ff4500"/><rect x="1623" y="330" width="2" height="2" fill="#fff"/>
<rect x="-2" y="349" width="6" height="6" fill="#ff4500"/><rect x="0" y="351" width="2" height="2" fill="#fff"/>
<rect x="1621" y="349" width="6" height="6" fill="#ff4500"/><rect x="1623" y="351" width="2" height="2" fill="#fff"/>
<rect x="-2" y="373" width="6" height="6" fill="#32cd32"/><rect x="0" y="375" width="2" height="2" fill="#fff"/>
<rect x="1621" y="373" width="6" height="6" fill="#32cd32"/><rect x="1623" y="375" width="2" height="2" fill="#fff"/>
<rect x="-2" y="420" width="6" height="6" fill="#0000ff"/><rect x="0" y="422" width="2" height="2" fill="#fff"/>
<rect x="1621" y="420" width="6" height="6" fill="#0000ff"/><rect x="1623" y="422" width="2" height="2" fill="#fff"/>
<rect x="-2" y="445" width="6" height="6" fill="#0000ff"/><rect x="0" y="447" width="2" height="2" fill="#fff"/>
<rect x="1621" y="445" width="6" height="6" fill="#0000ff"/><rect x="1623" y="447" width="2" height="2" fill="#fff"/>
</g>
<path d="M1343 30 L1355 30 L1349 36 Z" fill="#b8b8b8"/>
</g>
<g shape-rendering="crispEdges">
<rect x="1627" y="330" width="2" height="2" fill="#ff4500"/>
<rect x="1627" y="351" width="2" height="2" fill="#ff4500"/>
<rect x="1627" y="375" width="2" height="2" fill="#32cd32"/>
<rect x="1627" y="422" width="2" height="2" fill="#0000ff"/>
<rect x="1627" y="447" width="2" height="2" fill="#0000ff"/>
</g>
<g shape-rendering="crispEdges">
<rect x="1448" y="375" width="8" height="1" fill="#ff0000"/>
<rect x="1455.5" y="373.5" width="3" height="4" fill="#fff" stroke="#ff0000"/>
<rect x="1458.5" y="360.5" width="99" height="32" fill="#fff" stroke="#ff0000" stroke-width="1"/>
</g>
<text id="bigp" x="1460.5" y="387.3" font-family="Liberation Sans, Arial, sans-serif" font-size="29.4" fill="#ff0000" textLength="96" lengthAdjust="spacingAndGlyphs">1.22048</text>
<text x="1348.5" y="320" font-family="Liberation Serif, Noto Serif CJK SC, serif" font-weight="500" font-size="32.4" fill="#0b4a0b">多空转折点</text>
<text x="1347.5" y="319" font-family="Liberation Serif, Noto Serif CJK SC, serif" font-weight="500" font-size="32.4" fill="#10ff10">多空转折点</text>
<rect x="1628" y="51" width="2" height="1" fill="#000" shape-rendering="crispEdges"/>
<text transform="translate(1633.3,55) scale(0.91,1)" font-family="Liberation Sans, Arial, sans-serif" font-size="10" fill="#000" stroke="#000" stroke-width="0.22" >1.25265</text>
<rect x="1628" y="84" width="2" height="1" fill="#000" shape-rendering="crispEdges"/>
<text transform="translate(1633.3,88) scale(0.91,1)" font-family="Liberation Sans, Arial, sans-serif" font-size="10" fill="#000" stroke="#000" stroke-width="0.22" >1.24935</text>
<rect x="1628" y="117" width="2" height="1" fill="#000" shape-rendering="crispEdges"/>
<text transform="translate(1633.3,121) scale(0.91,1)" font-family="Liberation Sans, Arial, sans-serif" font-size="10" fill="#000" stroke="#000" stroke-width="0.22" >1.24610</text>
<rect x="1628" y="150" width="2" height="1" fill="#000" shape-rendering="crispEdges"/>
<text transform="translate(1633.3,154) scale(0.91,1)" font-family="Liberation Sans, Arial, sans-serif" font-size="10" fill="#000" stroke="#000" stroke-width="0.22" >1.24285</text>
<rect x="1628" y="183" width="2" height="1" fill="#000" shape-rendering="crispEdges"/>
<text transform="translate(1633.3,187) scale(0.91,1)" font-family="Liberation Sans, Arial, sans-serif" font-size="10" fill="#000" stroke="#000" stroke-width="0.22" >1.23955</text>
<rect x="1628" y="216" width="2" height="1" fill="#000" shape-rendering="crispEdges"/>
<text transform="translate(1633.3,220) scale(0.91,1)" font-family="Liberation Sans, Arial, sans-serif" font-size="10" fill="#000" stroke="#000" stroke-width="0.22" >1.23630</text>
<rect x="1628" y="249" width="2" height="1" fill="#000" shape-rendering="crispEdges"/>
<text transform="translate(1633.3,253) scale(0.91,1)" font-family="Liberation Sans, Arial, sans-serif" font-size="10" fill="#000" stroke="#000" stroke-width="0.22" >1.23300</text>
<rect x="1628" y="282" width="2" height="1" fill="#000" shape-rendering="crispEdges"/>
<text transform="translate(1633.3,286) scale(0.91,1)" font-family="Liberation Sans, Arial, sans-serif" font-size="10" fill="#000" stroke="#000" stroke-width="0.22" >1.22975</text>
<rect x="1628" y="315" width="2" height="1" fill="#000" shape-rendering="crispEdges"/>
<text transform="translate(1633.3,319) scale(0.91,1)" font-family="Liberation Sans, Arial, sans-serif" font-size="10" fill="#000" stroke="#000" stroke-width="0.22" >1.22650</text>
<rect x="1628" y="348" width="2" height="1" fill="#000" shape-rendering="crispEdges"/>
<text transform="translate(1633.3,352) scale(0.91,1)" font-family="Liberation Sans, Arial, sans-serif" font-size="10" fill="#000" stroke="#000" stroke-width="0.22" >1.22320</text>
<rect x="1628" y="381" width="2" height="1" fill="#000" shape-rendering="crispEdges"/>
<text transform="translate(1633.3,385) scale(0.91,1)" font-family="Liberation Sans, Arial, sans-serif" font-size="10" fill="#000" stroke="#000" stroke-width="0.22" >1.21995</text>
<rect x="1628" y="414" width="2" height="1" fill="#000" shape-rendering="crispEdges"/>
<text transform="translate(1633.3,418) scale(0.91,1)" font-family="Liberation Sans, Arial, sans-serif" font-size="10" fill="#000" stroke="#000" stroke-width="0.22" >1.21665</text>
<rect x="1628" y="447" width="2" height="1" fill="#000" shape-rendering="crispEdges"/>
<text transform="translate(1633.3,451) scale(0.91,1)" font-family="Liberation Sans, Arial, sans-serif" font-size="10" fill="#000" stroke="#000" stroke-width="0.22" >1.21340</text>
<rect x="1628" y="480" width="2" height="1" fill="#000" shape-rendering="crispEdges"/>
<text transform="translate(1633.3,484) scale(0.91,1)" font-family="Liberation Sans, Arial, sans-serif" font-size="10" fill="#000" stroke="#000" stroke-width="0.22" >1.21015</text>
<rect x="1628" y="513" width="2" height="1" fill="#000" shape-rendering="crispEdges"/>
<text transform="translate(1633.3,517) scale(0.91,1)" font-family="Liberation Sans, Arial, sans-serif" font-size="10" fill="#000" stroke="#000" stroke-width="0.22" >1.20685</text>
<rect x="1628" y="546" width="2" height="1" fill="#000" shape-rendering="crispEdges"/>
<text transform="translate(1633.3,550) scale(0.91,1)" font-family="Liberation Sans, Arial, sans-serif" font-size="10" fill="#000" stroke="#000" stroke-width="0.22" >1.20360</text>
<rect x="1628" y="579" width="2" height="1" fill="#000" shape-rendering="crispEdges"/>
<text transform="translate(1633.3,583) scale(0.91,1)" font-family="Liberation Sans, Arial, sans-serif" font-size="10" fill="#000" stroke="#000" stroke-width="0.22" >1.20030</text>
<rect x="1629" y="325" width="41" height="11" fill="#ff4500" shape-rendering="crispEdges"/>
<text transform="translate(1633.3,334.1) scale(0.91,1)" font-family="Liberation Sans, Arial, sans-serif" font-size="10" fill="#fff" stroke="#fff" stroke-width="0.22" >1.22493</text>
<rect x="1629" y="346" width="41" height="11" fill="#ff4500" shape-rendering="crispEdges"/>
<text transform="translate(1633.3,355.1) scale(0.91,1)" font-family="Liberation Sans, Arial, sans-serif" font-size="10" fill="#fff" stroke="#fff" stroke-width="0.22" >1.22285</text>
<rect x="1629" y="370" width="41" height="11" fill="#32cd32" shape-rendering="crispEdges"/>
<text transform="translate(1633.3,379.1) scale(0.91,1)" font-family="Liberation Sans, Arial, sans-serif" font-size="10" fill="#fff" stroke="#fff" stroke-width="0.22" >1.22048</text>
<rect x="1629" y="392" width="41" height="11" fill="#000000" shape-rendering="crispEdges"/>
<text transform="translate(1633.3,401.1) scale(0.91,1)" font-family="Liberation Sans, Arial, sans-serif" font-size="10" fill="#fff" stroke="#fff" stroke-width="0.22" >1.21834</text>
<rect x="1629" y="417" width="41" height="11" fill="#0000ff" shape-rendering="crispEdges"/>
<text transform="translate(1633.3,426.1) scale(0.91,1)" font-family="Liberation Sans, Arial, sans-serif" font-size="10" fill="#fff" stroke="#fff" stroke-width="0.22" >1.21583</text>
<rect x="1629" y="442" width="41" height="11" fill="#0000ff" shape-rendering="crispEdges"/>
<text transform="translate(1633.3,451.1) scale(0.91,1)" font-family="Liberation Sans, Arial, sans-serif" font-size="10" fill="#fff" stroke="#fff" stroke-width="0.22" >1.21335</text>
<path d="M2 40 L9 40 L5.5 36 Z" fill="#000"/>
<text transform="translate(14.5,40.7) scale(0.925,1)" font-family="Liberation Sans, Arial, sans-serif" font-size="10" fill="#000" stroke="#000" stroke-width="0.22" id="title">GBPUSD-,H4</text>
<text transform="translate(77.5,40.7) scale(0.92,1)" font-family="Liberation Sans, Arial, sans-serif" font-size="10" fill="#000" stroke="#000" stroke-width="0.22" >1.21833</text>
<text transform="translate(113.3,40.7) scale(0.92,1)" font-family="Liberation Sans, Arial, sans-serif" font-size="10" fill="#000" stroke="#000" stroke-width="0.22" >1.21843</text>
<text transform="translate(149.1,40.7) scale(0.92,1)" font-family="Liberation Sans, Arial, sans-serif" font-size="10" fill="#000" stroke="#000" stroke-width="0.22" >1.21831</text>
<text transform="translate(185,40.7) scale(0.92,1)" font-family="Liberation Sans, Arial, sans-serif" font-size="10" fill="#000" stroke="#000" stroke-width="0.22" >1.21834</text>
<g>
<rect x="2" y="49" width="52" height="25" fill="url(#gSell)"/>
<rect x="170" y="49" width="51" height="25" fill="url(#gSell)"/>
<rect x="2" y="73" width="109" height="40" fill="url(#gPrice)"/>
<rect x="113" y="73" width="108" height="40" fill="url(#gPrice)"/>
<rect x="6" y="72" width="44" height="2" fill="#b01212"/>
<rect x="173" y="72" width="44" height="2" fill="#b01212"/>
<path d="M2.5 49.5 H53.5 V73.5 H110.5 V112.5 H2.5 Z" fill="none" stroke="#c01818" stroke-width="1"/>
<path d="M220.500 49.5 H170.5 V73.5 H113.5 V112.5 H220.5 Z" fill="none" stroke="#c01818" stroke-width="1"/>
<rect x="56.5" y="49.5" width="110" height="21" fill="#fff" stroke="#aab0bc" stroke-width="1"/>
<rect x="57" y="50" width="20" height="20" fill="url(#gBtn)"/>
<rect x="146" y="50" width="20" height="20" fill="url(#gBtn)"/>
<rect x="77" y="50" width="1" height="20" fill="#b4b8c4"/>
<rect x="145" y="50" width="1" height="20" fill="#b4b8c4"/>
<path d="M63.500 58 L70.500 58 L67 61.500 Z" fill="#000"/>
<path d="M152.500 61.500 L159.500 61.500 L156 58 Z" fill="#000"/>
<text x="142" y="64.3" font-family="Liberation Sans, Arial, sans-serif" font-size="12" fill="#0a1530" text-anchor="end">1.00</text>
<text x="27.5" y="65" font-family="Liberation Sans, Arial, sans-serif" font-size="12" fill="#fff" text-anchor="middle" textLength="26" lengthAdjust="spacingAndGlyphs">SELL</text>
<text x="194" y="65" font-family="Liberation Sans, Arial, sans-serif" font-size="12" fill="#fff" text-anchor="middle" textLength="23" lengthAdjust="spacingAndGlyphs">BUY</text>
<text x="22.5" y="104" font-family="Liberation Sans, Arial, sans-serif" font-size="12.5" font-weight="700" fill="#fff" textLength="22.5" lengthAdjust="spacingAndGlyphs">1.21</text>
<text x="49" y="104.3" font-family="Liberation Sans, Arial, sans-serif" font-size="33.5" fill="#fff" textLength="35" lengthAdjust="spacingAndGlyphs">83</text>
<text x="88.5" y="88.3" font-family="Liberation Sans, Arial, sans-serif" font-size="12.5" font-weight="700" fill="#fff">4</text>
<text x="132.8" y="104" font-family="Liberation Sans, Arial, sans-serif" font-size="12.5" font-weight="700" fill="#fff" textLength="22.5" lengthAdjust="spacingAndGlyphs">1.21</text>
<text x="159.5" y="104.3" font-family="Liberation Sans, Arial, sans-serif" font-size="33.5" fill="#fff" textLength="35" lengthAdjust="spacingAndGlyphs">87</text>
<text x="199.5" y="88.3" font-family="Liberation Sans, Arial, sans-serif" font-size="12.5" font-weight="700" fill="#fff">1</text>
</g>
<g shape-rendering="crispEdges">
<rect x="7" y="646" width="1" height="10" fill="#c0c0c0"/>
<rect x="15" y="646" width="1" height="13" fill="#c0c0c0"/>
<rect x="23" y="646" width="1" height="15" fill="#c0c0c0"/>
<rect x="31" y="646" width="1" height="17" fill="#c0c0c0"/>
<rect x="39" y="646" width="1" height="19" fill="#c0c0c0"/>
<rect x="47" y="646" width="1" height="19" fill="#c0c0c0"/>
<rect x="55" y="646" width="1" height="12" fill="#c0c0c0"/>
<rect x="63" y="646" width="1" height="7" fill="#c0c0c0"/>
<rect x="71" y="646" width="1" height="5" fill="#c0c0c0"/>
<rect x="79" y="646" width="1" height="2" fill="#c0c0c0"/>
<rect x="87" y="646" width="1" height="1" fill="#c0c0c0"/>
<rect x="95" y="646" width="1" height="1" fill="#c0c0c0"/>
<rect x="119" y="646" width="1" height="2" fill="#c0c0c0"/>
<rect x="127" y="646" width="1" height="4" fill="#c0c0c0"/>
<rect x="135" y="646" width="1" height="7" fill="#c0c0c0"/>
<rect x="143" y="646" width="1" height="10" fill="#c0c0c0"/>
<rect x="151" y="646" width="1" height="12" fill="#c0c0c0"/>
<rect x="159" y="646" width="1" height="19" fill="#c0c0c0"/>
<rect x="167" y="646" width="1" height="24" fill="#c0c0c0"/>
<rect x="175" y="646" width="1" height="29" fill="#c0c0c0"/>
<rect x="183" y="646" width="1" height="34" fill="#c0c0c0"/>
<rect x="191" y="646" width="1" height="39" fill="#c0c0c0"/>
<rect x="199" y="646" width="1" height="47" fill="#c0c0c0"/>
<rect x="207" y="646" width="1" height="62" fill="#c0c0c0"/>
<rect x="215" y="646" width="1" height="72" fill="#c0c0c0"/>
<rect x="223" y="646" width="1" height="82" fill="#c0c0c0"/>
<rect x="231" y="646" width="1" height="93" fill="#c0c0c0"/>
<rect x="239" y="646" width="1" height="102" fill="#c0c0c0"/>
<rect x="247" y="646" width="1" height="106" fill="#c0c0c0"/>
<rect x="255" y="646" width="1" height="111" fill="#c0c0c0"/>
<rect x="263" y="646" width="1" height="112" fill="#c0c0c0"/>
<rect x="271" y="646" width="1" height="112" fill="#c0c0c0"/>
<rect x="279" y="646" width="1" height="111" fill="#c0c0c0"/>
<rect x="287" y="646" width="1" height="108" fill="#c0c0c0"/>
<rect x="295" y="646" width="1" height="103" fill="#c0c0c0"/>
<rect x="303" y="646" width="1" height="93" fill="#c0c0c0"/>
<rect x="311" y="646" width="1" height="90" fill="#c0c0c0"/>
<rect x="319" y="646" width="1" height="88" fill="#c0c0c0"/>
<rect x="327" y="646" width="1" height="89" fill="#c0c0c0"/>
<rect x="335" y="646" width="1" height="90" fill="#c0c0c0"/>
<rect x="343" y="646" width="1" height="89" fill="#c0c0c0"/>
<rect x="351" y="646" width="1" height="84" fill="#c0c0c0"/>
<rect x="359" y="646" width="1" height="79" fill="#c0c0c0"/>
<rect x="367" y="646" width="1" height="77" fill="#c0c0c0"/>
<rect x="375" y="646" width="1" height="78" fill="#c0c0c0"/>
<rect x="383" y="646" width="1" height="72" fill="#c0c0c0"/>
<rect x="391" y="646" width="1" height="69" fill="#c0c0c0"/>
<rect x="399" y="646" width="1" height="64" fill="#c0c0c0"/>
<rect x="407" y="646" width="1" height="57" fill="#c0c0c0"/>
<rect x="415" y="646" width="1" height="52" fill="#c0c0c0"/>
<rect x="423" y="646" width="1" height="48" fill="#c0c0c0"/>
<rect x="431" y="646" width="1" height="47" fill="#c0c0c0"/>
<rect x="439" y="646" width="1" height="42" fill="#c0c0c0"/>
<rect x="447" y="646" width="1" height="36" fill="#c0c0c0"/>
<rect x="455" y="646" width="1" height="34" fill="#c0c0c0"/>
<rect x="463" y="646" width="1" height="29" fill="#c0c0c0"/>
<rect x="471" y="646" width="1" height="26" fill="#c0c0c0"/>
<rect x="479" y="646" width="1" height="20" fill="#c0c0c0"/>
<rect x="487" y="646" width="1" height="16" fill="#c0c0c0"/>
<rect x="495" y="646" width="1" height="15" fill="#c0c0c0"/>
<rect x="503" y="646" width="1" height="14" fill="#c0c0c0"/>
<rect x="511" y="646" width="1" height="12" fill="#c0c0c0"/>
<rect x="519" y="646" width="1" height="10" fill="#c0c0c0"/>
<rect x="527" y="646" width="1" height="10" fill="#c0c0c0"/>
<rect x="535" y="646" width="1" height="10" fill="#c0c0c0"/>
<rect x="543" y="646" width="1" height="10" fill="#c0c0c0"/>
<rect x="551" y="646" width="1" height="10" fill="#c0c0c0"/>
<rect x="559" y="646" width="1" height="11" fill="#c0c0c0"/>
<rect x="567" y="646" width="1" height="8" fill="#c0c0c0"/>
<rect x="575" y="646" width="1" height="7" fill="#c0c0c0"/>
<rect x="583" y="646" width="1" height="7" fill="#c0c0c0"/>
<rect x="591" y="646" width="1" height="8" fill="#c0c0c0"/>
<rect x="599" y="646" width="1" height="9" fill="#c0c0c0"/>
<rect x="607" y="646" width="1" height="9" fill="#c0c0c0"/>
<rect x="615" y="646" width="1" height="10" fill="#c0c0c0"/>
<rect x="623" y="646" width="1" height="10" fill="#c0c0c0"/>
<rect x="631" y="646" width="1" height="18" fill="#c0c0c0"/>
<rect x="639" y="646" width="1" height="23" fill="#c0c0c0"/>
<rect x="647" y="646" width="1" height="29" fill="#c0c0c0"/>
<rect x="655" y="646" width="1" height="37" fill="#c0c0c0"/>
<rect x="663" y="646" width="1" height="42" fill="#c0c0c0"/>
<rect x="671" y="646" width="1" height="42" fill="#c0c0c0"/>
<rect x="679" y="646" width="1" height="39" fill="#c0c0c0"/>
<rect x="687" y="646" width="1" height="37" fill="#c0c0c0"/>
<rect x="695" y="646" width="1" height="35" fill="#c0c0c0"/>
<rect x="703" y="646" width="1" height="34" fill="#c0c0c0"/>
<rect x="711" y="646" width="1" height="32" fill="#c0c0c0"/>
<rect x="719" y="646" width="1" height="32" fill="#c0c0c0"/>
<rect x="727" y="646" width="1" height="29" fill="#c0c0c0"/>
<rect x="735" y="646" width="1" height="27" fill="#c0c0c0"/>
<rect x="743" y="646" width="1" height="27" fill="#c0c0c0"/>
<rect x="751" y="646" width="1" height="26" fill="#c0c0c0"/>
<rect x="759" y="646" width="1" height="26" fill="#c0c0c0"/>
<rect x="767" y="646" width="1" height="24" fill="#c0c0c0"/>
<rect x="775" y="646" width="1" height="22" fill="#c0c0c0"/>
<rect x="783" y="646" width="1" height="22" fill="#c0c0c0"/>
<rect x="791" y="646" width="1" height="22" fill="#c0c0c0"/>
<rect x="799" y="646" width="1" height="21" fill="#c0c0c0"/>
<rect x="807" y="646" width="1" height="19" fill="#c0c0c0"/>
<rect x="815" y="646" width="1" height="16" fill="#c0c0c0"/>
<rect x="823" y="646" width="1" height="7" fill="#c0c0c0"/>
<rect x="831" y="646" width="1" height="4" fill="#c0c0c0"/>
<rect x="855" y="646" width="1" height="1" fill="#c0c0c0"/>
<rect x="863" y="643" width="1" height="4" fill="#c0c0c0"/>
<rect x="871" y="635" width="1" height="12" fill="#c0c0c0"/>
<rect x="879" y="630" width="1" height="17" fill="#c0c0c0"/>
<rect x="887" y="627" width="1" height="20" fill="#c0c0c0"/>
<rect x="895" y="624" width="1" height="23" fill="#c0c0c0"/>
<rect x="903" y="622" width="1" height="25" fill="#c0c0c0"/>
<rect x="911" y="623" width="1" height="24" fill="#c0c0c0"/>
<rect x="919" y="626" width="1" height="21" fill="#c0c0c0"/>
<rect x="927" y="628" width="1" height="19" fill="#c0c0c0"/>
<rect x="935" y="628" width="1" height="19" fill="#c0c0c0"/>
<rect x="943" y="629" width="1" height="18" fill="#c0c0c0"/>
<rect x="951" y="630" width="1" height="17" fill="#c0c0c0"/>
<rect x="959" y="636" width="1" height="11" fill="#c0c0c0"/>
<rect x="967" y="641" width="1" height="6" fill="#c0c0c0"/>
<rect x="975" y="638" width="1" height="9" fill="#c0c0c0"/>
<rect x="983" y="633" width="1" height="14" fill="#c0c0c0"/>
<rect x="991" y="630" width="1" height="17" fill="#c0c0c0"/>
<rect x="999" y="629" width="1" height="18" fill="#c0c0c0"/>
<rect x="1007" y="632" width="1" height="15" fill="#c0c0c0"/>
<rect x="1015" y="633" width="1" height="14" fill="#c0c0c0"/>
<rect x="1023" y="634" width="1" height="13" fill="#c0c0c0"/>
<rect x="1031" y="635" width="1" height="12" fill="#c0c0c0"/>
<rect x="1039" y="637" width="1" height="10" fill="#c0c0c0"/>
<rect x="1047" y="639" width="1" height="8" fill="#c0c0c0"/>
<rect x="1055" y="639" width="1" height="8" fill="#c0c0c0"/>
<rect x="1063" y="638" width="1" height="9" fill="#c0c0c0"/>
<rect x="1071" y="626" width="1" height="21" fill="#c0c0c0"/>
<rect x="1079" y="616" width="1" height="31" fill="#c0c0c0"/>
<rect x="1087" y="609" width="1" height="38" fill="#c0c0c0"/>
<rect x="1095" y="606" width="1" height="41" fill="#c0c0c0"/>
<rect x="1103" y="608" width="1" height="39" fill="#c0c0c0"/>
<rect x="1111" y="607" width="1" height="40" fill="#c0c0c0"/>
<rect x="1119" y="603" width="1" height="44" fill="#c0c0c0"/>
<rect x="1127" y="597" width="1" height="50" fill="#c0c0c0"/>
<rect x="1135" y="596" width="1" height="51" fill="#c0c0c0"/>
<rect x="1143" y="595" width="1" height="52" fill="#c0c0c0"/>
<rect x="1151" y="597" width="1" height="50" fill="#c0c0c0"/>
<rect x="1159" y="600" width="1" height="47" fill="#c0c0c0"/>
<rect x="1167" y="604" width="1" height="43" fill="#c0c0c0"/>
<rect x="1175" y="609" width="1" height="38" fill="#c0c0c0"/>
<rect x="1183" y="613" width="1" height="34" fill="#c0c0c0"/>
<rect x="1191" y="617" width="1" height="30" fill="#c0c0c0"/>
<rect x="1199" y="617" width="1" height="30" fill="#c0c0c0"/>
<rect x="1207" y="615" width="1" height="32" fill="#c0c0c0"/>
<rect x="1215" y="612" width="1" height="35" fill="#c0c0c0"/>
<rect x="1223" y="610" width="1" height="37" fill="#c0c0c0"/>
<rect x="1231" y="609" width="1" height="38" fill="#c0c0c0"/>
<rect x="1239" y="611" width="1" height="36" fill="#c0c0c0"/>
<rect x="1247" y="612" width="1" height="35" fill="#c0c0c0"/>
<rect x="1255" y="621" width="1" height="26" fill="#c0c0c0"/>
<rect x="1263" y="623" width="1" height="24" fill="#c0c0c0"/>
<rect x="1271" y="630" width="1" height="17" fill="#c0c0c0"/>
<rect x="1279" y="634" width="1" height="13" fill="#c0c0c0"/>
<rect x="1287" y="639" width="1" height="8" fill="#c0c0c0"/>
<rect x="1295" y="644" width="1" height="3" fill="#c0c0c0"/>
<rect x="1303" y="645" width="1" height="2" fill="#c0c0c0"/>
<rect x="1319" y="646" width="1" height="6" fill="#c0c0c0"/>
<rect x="1327" y="646" width="1" height="9" fill="#c0c0c0"/>
<rect x="1335" y="646" width="1" height="11" fill="#c0c0c0"/>
</g>
<polyline points="0.0,644.0 7.5,646.2 15.0,649.5 25.0,652.0 37.6,655.8 47.7,658.3 62.7,660.0 75.3,658.3 90.3,657.0 105.4,653.3 120.4,650.3 135.5,649.2 148.0,649.7 163.0,653.3 175.6,658.8 188.0,664.6 200.7,672.0 213.2,680.9 225.8,694.7 238.3,708.5 250.9,721.0 263.4,733.5 276.0,743.6 288.5,750.6 297.3,752.9 313.6,750.6 326.0,748.0 338.7,743.6 351.2,739.8 363.8,734.8 381.3,729.8 400.0,724.0 412.5,718.5 425.0,711.0 437.6,706.0 450.0,699.0 462.7,692.0 475.0,685.9 487.8,678.4 500.0,673.3 513.0,668.8 525.4,663.8 535.5,660.3 550.5,658.8 575.6,656.5 593.0,655.3 625.8,655.3 635.8,658.3 645.9,659.5 655.9,664.6 666.0,668.3 676.0,673.3 688.5,676.3 696.0,680.4 711.0,683.4 728.7,682.6 741.2,679.6 763.8,676.3 788.9,672.8 800.0,671.3 817.6,668.8 832.6,663.8 850.0,658.3 870.0,651.3 880.0,644.5 890.0,639.5 905.4,635.2 918.0,630.2 928.0,627.2 940.5,625.7 953.0,625.2 965.6,627.2 975.6,630.7 1000.7,632.2 1025.8,633.2 1040.8,632.2 1055.9,633.2 1063.4,635.2 1073.5,632.7 1088.5,629.2 1106.0,622.7 1121.0,615.6 1133.7,608.6 1146.2,602.1 1156.2,600.6 1181.3,600.6 1191.4,602.6 1203.9,605.5 1214.0,608.0 1228.0,611.0 1251.0,612.8 1270.8,615.4 1285.0,618.5 1293.4,622.7 1307.6,630.4 1319.0,636.0 1331.7,642.6" fill="none" stroke="#ff0000" stroke-width="1" shape-rendering="crispEdges" stroke-dasharray="3 3"/>
<text transform="translate(3,596.7) scale(0.932,1)" font-family="Liberation Sans, Arial, sans-serif" font-size="10" fill="#000" stroke="#000" stroke-width="0.22" id="macdl">MACD(12,26,9) -0.000843 0.000090</text>
<text transform="translate(1631,595) scale(0.91,1)" font-family="Liberation Sans, Arial, sans-serif" font-size="10" fill="#000" stroke="#000" stroke-width="0.22" >0.004301</text>
<rect x="1628" y="646" width="2" height="1" fill="#000" shape-rendering="crispEdges"/>
<text transform="translate(1631,650) scale(0.91,1)" font-family="Liberation Sans, Arial, sans-serif" font-size="10" fill="#000" stroke="#000" stroke-width="0.22" >0.00</text>
<text transform="translate(1630.3,764) scale(0.91,1)" font-family="Liberation Sans, Arial, sans-serif" font-size="10" fill="#000" stroke="#000" stroke-width="0.22" >-0.008651</text>
<g shape-rendering="crispEdges" fill="#000"><rect x="1628" y="586" width="1" height="1"/><rect x="1628" y="766" width="1" height="1"/><rect x="1628" y="771" width="1" height="1"/></g>
<g shape-rendering="crispEdges">
<line x1="1" y1="802.5" x2="1627" y2="802.5" stroke="#c0c0c0" stroke-width="1" stroke-dasharray="3 3"/>
<line x1="1" y1="849.5" x2="1627" y2="849.5" stroke="#c0c0c0" stroke-width="1" stroke-dasharray="3 3"/>
<line x1="1" y1="905.5" x2="1627" y2="905.5" stroke="#c0c0c0" stroke-width="1" stroke-dasharray="3 3"/>
</g>
<polyline points="-0.5,866.6 7.5,859.1 15.5,862.8 23.5,866.1 31.5,866.1 39.5,869.4 47.5,861.1 55.5,839.3 63.5,839.3 71.5,845.3 79.5,844.3 87.5,850.3 95.5,847.0 103.5,844.3 111.5,852.3 119.5,860.3 127.5,859.3 135.5,862.3 143.5,869.4 151.5,866.4 159.5,879.9 167.5,881.2 175.5,883.4 183.5,886.7 191.5,892.2 199.5,898.0 207.5,906.0 215.5,907.5 223.5,907.5 231.5,912.3 239.5,908.8 247.5,903.0 255.5,905.5 263.5,900.5 271.5,900.0 279.5,901.5 287.5,895.0 295.5,888.4 303.5,867.4 311.5,878.9 319.5,881.2 327.5,885.9 335.5,888.4 343.5,885.4 351.5,874.6 359.5,871.4 367.5,877.4 375.5,883.4 383.5,868.1 391.5,869.4 399.5,867.4 407.5,858.3 415.5,860.3 423.5,861.3 431.5,870.4 439.5,853.3 447.5,853.3 455.5,858.3 463.5,854.3 471.5,852.3 479.5,845.3 487.5,848.3 495.5,856.3 503.5,852.3 511.5,849.5 519.5,853.3 527.5,852.3 535.5,858.3 543.5,853.6 551.5,858.3 559.5,859.6 567.5,848.3 575.5,846.0 583.5,857.3 591.5,859.6 599.5,857.3 607.5,856.3 615.5,857.8 623.5,860.8 631.5,878.4 639.5,873.4 647.5,879.9 655.5,887.4 663.5,880.9 671.5,868.4 679.5,861.1 687.5,864.3 695.5,862.3 703.5,861.1 711.5,865.4 719.5,865.4 727.5,856.6 735.5,862.3 743.5,865.6 751.5,862.3 759.5,865.6 767.5,861.3 775.5,858.3 783.5,859.6 791.5,865.4 799.5,860.3 807.5,863.3 815.5,850.3 823.5,830.2 831.5,840.3 839.5,839.3 847.5,848.3 855.5,849.0 863.5,837.8 871.5,825.2 879.5,832.2 887.5,831.2 895.5,830.2 903.5,832.2 911.5,841.5 919.5,847.3 927.5,841.0 935.5,843.3 943.5,845.3 951.5,843.3 959.5,859.1 967.5,862.3 975.5,837.8 983.5,833.2 991.5,836.2 999.5,838.3 1007.5,847.0 1015.5,848.3 1023.5,844.3 1031.5,849.3 1039.5,848.3 1047.5,850.3 1055.5,845.8 1063.5,841.3 1071.5,816.4 1079.5,815.2 1087.5,817.2 1095.5,825.2 1103.5,837.3 1111.5,831.5 1119.5,824.7 1127.5,819.2 1135.5,829.2 1143.5,827.2 1151.5,834.2 1159.5,837.3 1167.5,841.0 1175.5,844.3 1183.5,844.3 1191.5,848.3 1199.5,836.2 1207.5,830.7 1215.5,827.0 1223.5,827.0 1231.5,829.6 1239.5,833.0 1247.5,840.0 1255.5,856.5 1263.5,845.4 1271.5,855.6 1279.5,853.3 1287.5,857.0 1295.5,860.4 1303.5,852.5 1311.5,857.9 1319.5,862.1 1327.5,861.6 1335.5,861.3" fill="none" stroke="#1e90ff" stroke-width="1" shape-rendering="crispEdges" />
<text transform="translate(3,782) scale(0.928,1)" font-family="Liberation Sans, Arial, sans-serif" font-size="10" fill="#000" stroke="#000" stroke-width="0.22" id="rsil">RSI(14) 43.0114</text>
<text transform="translate(1630.5,780.0) scale(0.91,1)" font-family="Liberation Sans, Arial, sans-serif" font-size="10" fill="#000" stroke="#000" stroke-width="0.22" >100</text>
<text transform="translate(1630.5,806.0) scale(0.91,1)" font-family="Liberation Sans, Arial, sans-serif" font-size="10" fill="#000" stroke="#000" stroke-width="0.22" >80</text>
<text transform="translate(1630.5,853.0) scale(0.91,1)" font-family="Liberation Sans, Arial, sans-serif" font-size="10" fill="#000" stroke="#000" stroke-width="0.22" >50</text>
<text transform="translate(1630.5,909.0) scale(0.91,1)" font-family="Liberation Sans, Arial, sans-serif" font-size="10" fill="#000" stroke="#000" stroke-width="0.22" >15</text>
<text transform="translate(1630.5,926.0) scale(0.91,1)" font-family="Liberation Sans, Arial, sans-serif" font-size="10" fill="#000" stroke="#000" stroke-width="0.22" >0</text>
<rect x="-1" y="930" width="1" height="3" fill="#000" shape-rendering="crispEdges"/>
<text transform="translate(-2.2,942) scale(0.93,1)" font-family="Liberation Sans, Arial, sans-serif" font-size="9.8" fill="#000" stroke="#000" stroke-width="0.22" >23 Jul 2019</text>
<rect x="63" y="930" width="1" height="3" fill="#000" shape-rendering="crispEdges"/>
<text transform="translate(61.8,942) scale(0.93,1)" font-family="Liberation Sans, Arial, sans-serif" font-size="9.8" fill="#000" stroke="#000" stroke-width="0.22" >24 Jul 12:00</text>
<rect x="127" y="930" width="1" height="3" fill="#000" shape-rendering="crispEdges"/>
<text transform="translate(125.8,942) scale(0.93,1)" font-family="Liberation Sans, Arial, sans-serif" font-size="9.8" fill="#000" stroke="#000" stroke-width="0.22" >25 Jul 20:00</text>
<rect x="191" y="930" width="1" height="3" fill="#000" shape-rendering="crispEdges"/>
<text transform="translate(189.8,942) scale(0.93,1)" font-family="Liberation Sans, Arial, sans-serif" font-size="9.8" fill="#000" stroke="#000" stroke-width="0.22" >29 Jul 04:00</text>
<rect x="255" y="930" width="1" height="3" fill="#000" shape-rendering="crispEdges"/>
<text transform="translate(253.8,942) scale(0.93,1)" font-family="Liberation Sans, Arial, sans-serif" font-size="9.8" fill="#000" stroke="#000" stroke-width="0.22" >30 Jul 12:00</text>
<rect x="319" y="930" width="1" height="3" fill="#000" shape-rendering="crispEdges"/>
<text transform="translate(317.8,942) scale(0.93,1)" font-family="Liberation Sans, Arial, sans-serif" font-size="9.8" fill="#000" stroke="#000" stroke-width="0.22" >31 Jul 20:00</text>
<rect x="383" y="930" width="1" height="3" fill="#000" shape-rendering="crispEdges"/>
<text transform="translate(381.8,942) scale(0.955,1)" font-family="Liberation Sans, Arial, sans-serif" font-size="9.8" fill="#000" stroke="#000" stroke-width="0.22" >2 Aug 04:00</text>
<rect x="447" y="930" width="1" height="3" fill="#000" shape-rendering="crispEdges"/>
<text transform="translate(445.8,942) scale(0.955,1)" font-family="Liberation Sans, Arial, sans-serif" font-size="9.8" fill="#000" stroke="#000" stroke-width="0.22" >5 Aug 12:00</text>
<rect x="511" y="930" width="1" height="3" fill="#000" shape-rendering="crispEdges"/>
<text transform="translate(509.8,942) scale(0.955,1)" font-family="Liberation Sans, Arial, sans-serif" font-size="9.8" fill="#000" stroke="#000" stroke-width="0.22" >6 Aug 20:00</text>
<rect x="575" y="930" width="1" height="3" fill="#000" shape-rendering="crispEdges"/>
<text transform="translate(573.8,942) scale(0.955,1)" font-family="Liberation Sans, Arial, sans-serif" font-size="9.8" fill="#000" stroke="#000" stroke-width="0.22" >8 Aug 04:00</text>
<rect x="639" y="930" width="1" height="3" fill="#000" shape-rendering="crispEdges"/>
<text transform="translate(637.8,942) scale(0.955,1)" font-family="Liberation Sans, Arial, sans-serif" font-size="9.8" fill="#000" stroke="#000" stroke-width="0.22" >9 Aug 12:00</text>
<rect x="703" y="930" width="1" height="3" fill="#000" shape-rendering="crispEdges"/>
<text transform="translate(701.8,942) scale(0.955,1)" font-family="Liberation Sans, Arial, sans-serif" font-size="9.8" fill="#000" stroke="#000" stroke-width="0.22" >12 Aug 20:00</text>
<rect x="767" y="930" width="1" height="3" fill="#000" shape-rendering="crispEdges"/>
<text transform="translate(765.8,942) scale(0.955,1)" font-family="Liberation Sans, Arial, sans-serif" font-size="9.8" fill="#000" stroke="#000" stroke-width="0.22" >14 Aug 04:00</text>
<rect x="831" y="930" width="1" height="3" fill="#000" shape-rendering="crispEdges"/>
<text transform="translate(829.8,942) scale(0.955,1)" font-family="Liberation Sans, Arial, sans-serif" font-size="9.8" fill="#000" stroke="#000" stroke-width="0.22" >15 Aug 12:00</text>
<rect x="895" y="930" width="1" height="3" fill="#000" shape-rendering="crispEdges"/>
<text transform="translate(893.8,942) scale(0.955,1)" font-family="Liberation Sans, Arial, sans-serif" font-size="9.8" fill="#000" stroke="#000" stroke-width="0.22" >18 Aug 23:00</text>
<rect x="959" y="930" width="1" height="3" fill="#000" shape-rendering="crispEdges"/>
<text transform="translate(957.8,942) scale(0.955,1)" font-family="Liberation Sans, Arial, sans-serif" font-size="9.8" fill="#000" stroke="#000" stroke-width="0.22" >20 Aug 04:00</text>
<rect x="1023" y="930" width="1" height="3" fill="#000" shape-rendering="crispEdges"/>
<text transform="translate(1021.8,942) scale(0.955,1)" font-family="Liberation Sans, Arial, sans-serif" font-size="9.8" fill="#000" stroke="#000" stroke-width="0.22" >21 Aug 12:00</text>
<rect x="1087" y="930" width="1" height="3" fill="#000" shape-rendering="crispEdges"/>
<text transform="translate(1085.8,942) scale(0.955,1)" font-family="Liberation Sans, Arial, sans-serif" font-size="9.8" fill="#000" stroke="#000" stroke-width="0.22" >22 Aug 20:00</text>
<rect x="1151" y="930" width="1" height="3" fill="#000" shape-rendering="crispEdges"/>
<text transform="translate(1149.8,942) scale(0.955,1)" font-family="Liberation Sans, Arial, sans-serif" font-size="9.8" fill="#000" stroke="#000" stroke-width="0.22" >26 Aug 04:00</text>
<rect x="1215" y="930" width="1" height="3" fill="#000" shape-rendering="crispEdges"/>
<text transform="translate(1213.8,942) scale(0.955,1)" font-family="Liberation Sans, Arial, sans-serif" font-size="9.8" fill="#000" stroke="#000" stroke-width="0.22" >27 Aug 12:00</text>
<rect x="1279" y="930" width="1" height="3" fill="#000" shape-rendering="crispEdges"/>
<text transform="translate(1277.8,942) scale(0.955,1)" font-family="Liberation Sans, Arial, sans-serif" font-size="9.8" fill="#000" stroke="#000" stroke-width="0.22" >28 Aug 20:00</text>
</svg>
</body></html>
